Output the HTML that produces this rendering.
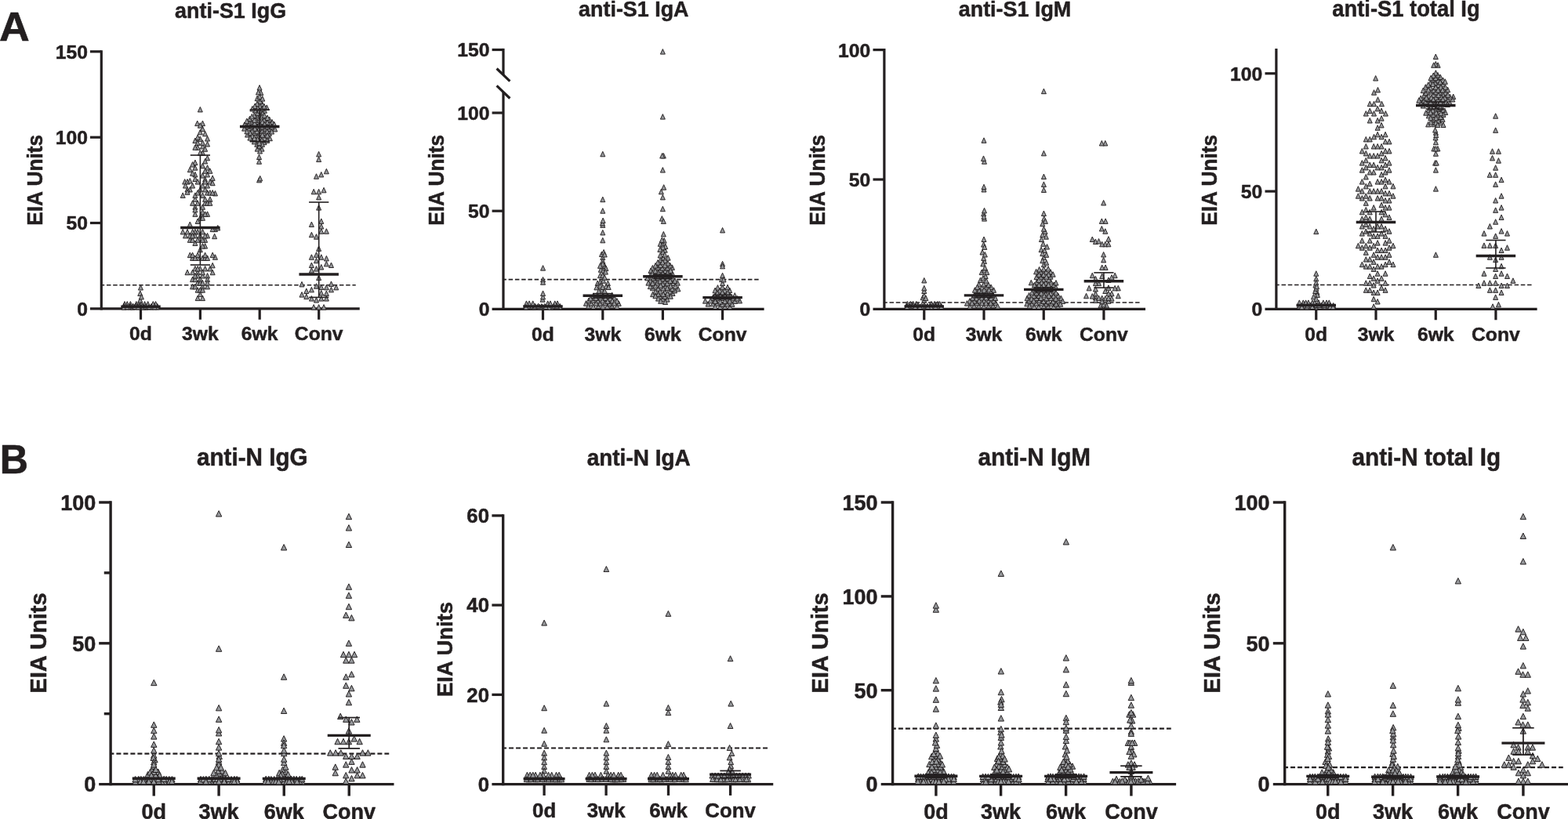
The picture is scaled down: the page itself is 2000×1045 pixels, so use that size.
<!DOCTYPE html>
<html lang="en"><head><meta charset="utf-8"><title>Anti-S1 and anti-N antibody EIA units</title>
<style>html,body{margin:0;padding:0;background:#fff}body{width:2000px;height:1045px;overflow:hidden}svg{display:block}text{white-space:pre}</style>
</head><body>
<svg width="2000" height="1045" viewBox="0 0 2000 1045">
<rect width="2000" height="1045" fill="#fff"/>
<g fill="#231f20" stroke="#231f20" stroke-width="0.6" stroke-linejoin="round" font-family="'Liberation Sans', sans-serif" font-weight="700">
<text transform="translate(-1 51.5) scale(1.07 1.04)" font-size="50.2">A</text>
<text transform="translate(-0.2 604) scale(1 1.04)" font-size="50.2">B</text>
</g>
<g id="A1">
<g stroke="#231f20" fill="none">
<line x1="114.9" y1="393.9" x2="458.75" y2="393.9" stroke-width="3.2"/>
<line x1="129.3" y1="64.2" x2="129.3" y2="395.5" stroke-width="3.2"/>
<line x1="114.9" y1="65.8" x2="129.3" y2="65.8" stroke-width="3.2"/>
<line x1="114.9" y1="175.2" x2="129.3" y2="175.2" stroke-width="3.2"/>
<line x1="114.9" y1="284.5" x2="129.3" y2="284.5" stroke-width="3.2"/>
<line x1="179.5" y1="393.9" x2="179.5" y2="407.75" stroke-width="3.2"/>
<line x1="255.4" y1="393.9" x2="255.4" y2="407.75" stroke-width="3.2"/>
<line x1="331.2" y1="393.9" x2="331.2" y2="407.75" stroke-width="3.2"/>
<line x1="406.7" y1="393.9" x2="406.7" y2="407.75" stroke-width="3.2"/>
<line x1="128.3" y1="363.75" x2="453.75" y2="363.75" stroke-width="1.55" stroke-dasharray="5.5 2.75" stroke-dashoffset="0.6"/>
</g>
<g fill="#231f20" stroke="#231f20" stroke-width="0.5" stroke-linejoin="round" font-family="'Liberation Sans', sans-serif" font-weight="700">
<text transform="translate(112 74.79) scale(1 0.96)" font-size="24.7" text-anchor="end">150</text>
<text transform="translate(112 184.19) scale(1 0.96)" font-size="24.7" text-anchor="end">100</text>
<text transform="translate(112 293.49) scale(1 0.96)" font-size="24.7" text-anchor="end">50</text>
<text transform="translate(112 402.89) scale(1 0.96)" font-size="24.7" text-anchor="end">0</text>
<text transform="translate(179.5 434.1) scale(1 0.97)" font-size="24.7" text-anchor="middle">0d</text>
<text transform="translate(255.4 434.1) scale(1 0.97)" font-size="24.7" text-anchor="middle">3wk</text>
<text transform="translate(331.2 434.1) scale(1 0.97)" font-size="24.7" text-anchor="middle">6wk</text>
<text transform="translate(406.7 434.1) scale(1 0.97)" font-size="24.7" text-anchor="middle">Conv</text>
<text transform="translate(294.1 23.1) scale(1 1.05)" font-size="26.9" text-anchor="middle">anti-S1 IgG</text>
<text transform="translate(53.8 229.8) rotate(-90) scale(1 1.04)" font-size="26.36" text-anchor="middle">EIA Units</text>
</g>
<g id="A1-pts" fill="#97999c" stroke="#231f20" stroke-width="0.95" stroke-linejoin="miter">
<g><path d="M178.78 370.97l3 6.5h-6z"/><path d="M197.03 387.25l3 6.5h-6z"/><path d="M162.27 387.3l3 6.5h-6z"/><path d="M188.74 387.2l3 6.5h-6z"/><path d="M158.97 384.6l3 6.5h-6z"/><path d="M179.71 388.1l3 6.5h-6z"/><path d="M200.76 387.4l3 6.5h-6z"/><path d="M180.43 384.6l3 6.5h-6z"/><path d="M184.55 384.6l3 6.5h-6z"/><path d="M179.44 363.54l3 6.5h-6z"/><path d="M173.82 384.6l3 6.5h-6z"/><path d="M193.04 387.43l3 6.5h-6z"/><path d="M166.4 384.6l3 6.5h-6z"/><path d="M158.12 387.13l3 6.5h-6z"/><path d="M177.12 384.6l3 6.5h-6z"/><path d="M165.92 387.14l3 6.5h-6z"/><path d="M178.78 379.55l3 6.5h-6z"/><path d="M165.5 388.37l3 6.5h-6z"/><path d="M158.21 388.61l3 6.5h-6z"/><path d="M181.52 387.11l3 6.5h-6z"/><path d="M193.12 388.42l3 6.5h-6z"/><path d="M200.27 388.35l3 6.5h-6z"/><path d="M186.28 388.67l3 6.5h-6z"/><path d="M169.12 388.57l3 6.5h-6z"/><path d="M188.68 384.6l3 6.5h-6z"/><path d="M162.28 384.6l3 6.5h-6z"/><path d="M182.96 388.53l3 6.5h-6z"/><path d="M198.57 384.6l3 6.5h-6z"/><path d="M195.28 384.6l3 6.5h-6z"/><path d="M185.62 387.52l3 6.5h-6z"/><path d="M190.32 388.12l3 6.5h-6z"/><path d="M162.21 388.25l3 6.5h-6z"/><path d="M169.73 387.28l3 6.5h-6z"/><path d="M180.43 375.42l3 6.5h-6z"/><path d="M197.35 388.33l3 6.5h-6z"/><path d="M177.86 387.33l3 6.5h-6z"/><path d="M173.6 387.01l3 6.5h-6z"/><path d="M172.18 388.12l3 6.5h-6z"/><path d="M176.27 388.36l3 6.5h-6z"/></g>
<g><path d="M245.6 353.15l3 6.5h-6z"/><path d="M258.47 183.45l3 6.5h-6z"/><path d="M252.2 366.68l3 6.5h-6z"/><path d="M252.2 292.43l3 6.5h-6z"/><path d="M258.47 362.39l3 6.5h-6z"/><path d="M264.57 242.6l3 6.5h-6z"/><path d="M242.3 302.83l3 6.5h-6z"/><path d="M242.3 283.03l3 6.5h-6z"/><path d="M248.9 176.03l3 6.5h-6z"/><path d="M245.6 362.39l3 6.5h-6z"/><path d="M258.47 191.7l3 6.5h-6z"/><path d="M233.22 292.43l3 6.5h-6z"/><path d="M252.2 344.24l3 6.5h-6z"/><path d="M252.2 348.53l3 6.5h-6z"/><path d="M255.34 191.7l3 6.5h-6z"/><path d="M264.57 269.83l3 6.5h-6z"/><path d="M245.6 302.83l3 6.5h-6z"/><path d="M258.47 260.75l3 6.5h-6z"/><path d="M261.61 339.46l3 6.5h-6z"/><path d="M252.2 357.6l3 6.5h-6z"/><path d="M251.7 154.08l3 6.5h-6z"/><path d="M264.57 210.67l3 6.5h-6z"/><path d="M248.9 210.67l3 6.5h-6z"/><path d="M236.53 297.38l3 6.5h-6z"/><path d="M248.9 292.43l3 6.5h-6z"/><path d="M261.61 310.58l3 6.5h-6z"/><path d="M255.34 353.15l3 6.5h-6z"/><path d="M264.57 348.53l3 6.5h-6z"/><path d="M255.34 165.3l3 6.5h-6z"/><path d="M267.88 339.46l3 6.5h-6z"/><path d="M252.2 178.83l3 6.5h-6z"/><path d="M248.9 269.83l3 6.5h-6z"/><path d="M258.47 154.08l3 6.5h-6z"/><path d="M242.3 213.15l3 6.5h-6z"/><path d="M255.34 357.6l3 6.5h-6z"/><path d="M264.57 180.48l3 6.5h-6z"/><path d="M252.2 184.77l3 6.5h-6z"/><path d="M258.47 245.9l3 6.5h-6z"/><path d="M255.34 173.88l3 6.5h-6z"/><path d="M258.47 220.57l3 6.5h-6z"/><path d="M242.3 238.48l3 6.5h-6z"/><path d="M258.47 377.08l3 6.5h-6z"/><path d="M235.7 228.57l3 6.5h-6z"/><path d="M274.48 324.77l3 6.5h-6z"/><path d="M261.61 238.48l3 6.5h-6z"/><path d="M261.61 302.83l3 6.5h-6z"/><path d="M261.61 225.53l3 6.5h-6z"/><path d="M255.34 339.46l3 6.5h-6z"/><path d="M261.61 167.28l3 6.5h-6z"/><path d="M258.47 233.53l3 6.5h-6z"/><path d="M258.47 178.83l3 6.5h-6z"/><path d="M255.34 136.42l3 6.5h-6z"/><path d="M258.47 357.6l3 6.5h-6z"/><path d="M258.47 269.83l3 6.5h-6z"/><path d="M248.9 353.15l3 6.5h-6z"/><path d="M239 238.48l3 6.5h-6z"/><path d="M258.47 161.17l3 6.5h-6z"/><path d="M267.88 242.6l3 6.5h-6z"/><path d="M239 292.43l3 6.5h-6z"/><path d="M255.34 366.68l3 6.5h-6z"/><path d="M274.48 289.13l3 6.5h-6z"/><path d="M271.18 322.13l3 6.5h-6z"/><path d="M264.57 219.42l3 6.5h-6z"/><path d="M255.34 274.78l3 6.5h-6z"/><path d="M258.47 208.2l3 6.5h-6z"/><path d="M252.2 278.9l3 6.5h-6z"/><path d="M233.22 245.9l3 6.5h-6z"/><path d="M248.9 260.75l3 6.5h-6z"/><path d="M261.61 255.8l3 6.5h-6z"/><path d="M264.57 353.15l3 6.5h-6z"/><path d="M239 228.57l3 6.5h-6z"/><path d="M242.3 227.42l3 6.5h-6z"/><path d="M248.9 250.85l3 6.5h-6z"/><path d="M271.18 223.88l3 6.5h-6z"/><path d="M255.34 372.12l3 6.5h-6z"/><path d="M248.9 339.46l3 6.5h-6z"/><path d="M261.61 214.8l3 6.5h-6z"/><path d="M258.47 292.43l3 6.5h-6z"/><path d="M258.47 366.68l3 6.5h-6z"/><path d="M245.6 325.92l3 6.5h-6z"/><path d="M258.47 267.35l3 6.5h-6z"/><path d="M236.53 233.53l3 6.5h-6z"/><path d="M258.47 348.53l3 6.5h-6z"/><path d="M274.48 243.42l3 6.5h-6z"/><path d="M248.9 306.95l3 6.5h-6z"/><path d="M252.2 325.92l3 6.5h-6z"/><path d="M264.57 362.39l3 6.5h-6z"/><path d="M267.88 250.85l3 6.5h-6z"/><path d="M248.9 225.03l3 6.5h-6z"/><path d="M261.61 250.85l3 6.5h-6z"/><path d="M248.9 219.42l3 6.5h-6z"/><path d="M255.34 315.2l3 6.5h-6z"/><path d="M277.77 287.48l3 6.5h-6z"/><path d="M248.9 245.9l3 6.5h-6z"/><path d="M242.3 322.13l3 6.5h-6z"/><path d="M242.3 297.38l3 6.5h-6z"/><path d="M255.34 238.48l3 6.5h-6z"/><path d="M264.57 297.38l3 6.5h-6z"/><path d="M264.57 198.3l3 6.5h-6z"/><path d="M264.57 357.6l3 6.5h-6z"/><path d="M258.47 310.58l3 6.5h-6z"/><path d="M245.6 233.53l3 6.5h-6z"/><path d="M261.61 269.83l3 6.5h-6z"/><path d="M252.2 322.13l3 6.5h-6z"/><path d="M258.47 325.92l3 6.5h-6z"/><path d="M271.18 344.24l3 6.5h-6z"/><path d="M264.57 255.8l3 6.5h-6z"/><path d="M255.34 297.38l3 6.5h-6z"/><path d="M239 241.78l3 6.5h-6z"/><path d="M258.47 302.83l3 6.5h-6z"/><path d="M271.18 242.6l3 6.5h-6z"/><path d="M252.2 377.08l3 6.5h-6z"/><path d="M245.6 344.24l3 6.5h-6z"/><path d="M245.6 292.43l3 6.5h-6z"/><path d="M261.61 325.92l3 6.5h-6z"/><path d="M264.57 233.53l3 6.5h-6z"/><path d="M264.57 325.92l3 6.5h-6z"/><path d="M252.2 255.8l3 6.5h-6z"/><path d="M261.61 186.75l3 6.5h-6z"/><path d="M252.2 339.46l3 6.5h-6z"/><path d="M261.61 228.57l3 6.5h-6z"/><path d="M239 344.24l3 6.5h-6z"/><path d="M255.34 156.72l3 6.5h-6z"/><path d="M267.88 214.8l3 6.5h-6z"/><path d="M245.6 217.77l3 6.5h-6z"/><path d="M248.9 204.07l3 6.5h-6z"/><path d="M248.9 264.38l3 6.5h-6z"/><path d="M267.88 228.57l3 6.5h-6z"/><path d="M245.6 322.13l3 6.5h-6z"/><path d="M273.65 298.21l3 6.5h-6z"/><path d="M271.18 289.13l3 6.5h-6z"/><path d="M271.18 335.33l3 6.5h-6z"/><path d="M248.9 297.38l3 6.5h-6z"/><path d="M252.2 171.9l3 6.5h-6z"/><path d="M248.9 362.39l3 6.5h-6z"/><path d="M267.88 255.8l3 6.5h-6z"/><path d="M258.47 344.24l3 6.5h-6z"/><path d="M248.9 325.92l3 6.5h-6z"/><path d="M261.61 297.38l3 6.5h-6z"/><path d="M248.9 348.53l3 6.5h-6z"/><path d="M252.2 302.83l3 6.5h-6z"/><path d="M261.61 322.13l3 6.5h-6z"/><path d="M252.2 228.57l3 6.5h-6z"/><path d="M264.57 173.55l3 6.5h-6z"/><path d="M252.2 242.6l3 6.5h-6z"/><path d="M245.6 255.8l3 6.5h-6z"/><path d="M258.47 274.78l3 6.5h-6z"/><path d="M271.18 230.22l3 6.5h-6z"/><path d="M245.6 297.38l3 6.5h-6z"/><path d="M261.61 202.42l3 6.5h-6z"/><path d="M245.6 206.55l3 6.5h-6z"/><path d="M248.9 184.77l3 6.5h-6z"/></g>
<g><path d="M331.54 172.06l3 6.5h-6z"/><path d="M318.46 153.98l3 6.5h-6z"/><path d="M328.59 145.43l3 6.5h-6z"/><path d="M331.36 154.07l3 6.5h-6z"/><path d="M328.48 169.61l3 6.5h-6z"/><path d="M331.6 166.88l3 6.5h-6z"/><path d="M332.84 114.89l3 6.5h-6z"/><path d="M337.1 178.16l3 6.5h-6z"/><path d="M331.69 143.49l3 6.5h-6z"/><path d="M315.57 168.54l3 6.5h-6z"/><path d="M327.78 180.76l3 6.5h-6z"/><path d="M324.4 144.07l3 6.5h-6z"/><path d="M344.35 173.2l3 6.5h-6z"/><path d="M317.92 160.4l3 6.5h-6z"/><path d="M321.38 152.97l3 6.5h-6z"/><path d="M328.15 122.18l3 6.5h-6z"/><path d="M334.56 129.59l3 6.5h-6z"/><path d="M331.51 131.93l3 6.5h-6z"/><path d="M325.36 137.42l3 6.5h-6z"/><path d="M337.42 137.72l3 6.5h-6z"/><path d="M337.35 166.23l3 6.5h-6z"/><path d="M337.09 149.35l3 6.5h-6z"/><path d="M314.9 157.77l3 6.5h-6z"/><path d="M327.85 151.97l3 6.5h-6z"/><path d="M331.79 125.89l3 6.5h-6z"/><path d="M337.64 172.99l3 6.5h-6z"/><path d="M334.22 163.49l3 6.5h-6z"/><path d="M321.97 163.34l3 6.5h-6z"/><path d="M343.48 166.73l3 6.5h-6z"/><path d="M328.49 140.82l3 6.5h-6z"/><path d="M328.51 134.44l3 6.5h-6z"/><path d="M328.26 186.61l3 6.5h-6z"/><path d="M311.62 160.62l3 6.5h-6z"/><path d="M327.84 158.04l3 6.5h-6z"/><path d="M318.54 148.24l3 6.5h-6z"/><path d="M334.12 175.31l3 6.5h-6z"/><path d="M350.77 161.43l3 6.5h-6z"/><path d="M340.32 133.92l3 6.5h-6z"/><path d="M343.55 160.81l3 6.5h-6z"/><path d="M334.33 135.52l3 6.5h-6z"/><path d="M328.44 174.35l3 6.5h-6z"/><path d="M311.76 155.91l3 6.5h-6z"/><path d="M338.06 160.65l3 6.5h-6z"/><path d="M331.25 119.89l3 6.5h-6z"/><path d="M330.96 137.57l3 6.5h-6z"/><path d="M330.53 196.99l3 6.5h-6z"/><path d="M327.97 129.13l3 6.5h-6z"/><path d="M334.01 186.6l3 6.5h-6z"/><path d="M347.12 152.49l3 6.5h-6z"/><path d="M330.99 183.2l3 6.5h-6z"/><path d="M343.64 148.97l3 6.5h-6z"/><path d="M331.54 189.51l3 6.5h-6z"/><path d="M325.31 166l3 6.5h-6z"/><path d="M321.99 174.27l3 6.5h-6z"/><path d="M334.83 141.43l3 6.5h-6z"/><path d="M349.87 155.3l3 6.5h-6z"/><path d="M340.69 164.49l3 6.5h-6z"/><path d="M341 169.5l3 6.5h-6z"/><path d="M334.29 145.55l3 6.5h-6z"/><path d="M331.05 108.57l3 6.5h-6z"/><path d="M324.9 153.99l3 6.5h-6z"/><path d="M314.79 151.14l3 6.5h-6z"/><path d="M321.38 157.58l3 6.5h-6z"/><path d="M327.75 164.24l3 6.5h-6z"/><path d="M324.27 177.41l3 6.5h-6z"/><path d="M325.09 132.1l3 6.5h-6z"/><path d="M344.25 155.43l3 6.5h-6z"/><path d="M318.98 166.42l3 6.5h-6z"/><path d="M330.8 160.43l3 6.5h-6z"/><path d="M337.04 132.48l3 6.5h-6z"/><path d="M324.6 149.91l3 6.5h-6z"/><path d="M334.5 180.77l3 6.5h-6z"/><path d="M340.94 152.93l3 6.5h-6z"/><path d="M329.47 114.36l3 6.5h-6z"/><path d="M321.86 135.41l3 6.5h-6z"/><path d="M334.69 168.8l3 6.5h-6z"/><path d="M321.34 145.38l3 6.5h-6z"/><path d="M340.88 158.32l3 6.5h-6z"/><path d="M334.8 122.57l3 6.5h-6z"/><path d="M321.83 170.3l3 6.5h-6z"/><path d="M331.21 150.15l3 6.5h-6z"/><path d="M346.61 164.54l3 6.5h-6z"/><path d="M337.25 144.02l3 6.5h-6z"/><path d="M341.12 147l3 6.5h-6z"/><path d="M330.53 202.78l3 6.5h-6z"/><path d="M325.2 160.63l3 6.5h-6z"/><path d="M340.77 175.81l3 6.5h-6z"/><path d="M334.25 158.4l3 6.5h-6z"/><path d="M334.57 152.24l3 6.5h-6z"/><path d="M330.68 179.1l3 6.5h-6z"/><path d="M314.93 164.27l3 6.5h-6z"/><path d="M324.5 173.08l3 6.5h-6z"/><path d="M337.56 155.31l3 6.5h-6z"/><path d="M330.57 226.35l3 6.5h-6z"/><path d="M346.87 158.46l3 6.5h-6z"/><path d="M318.93 172.58l3 6.5h-6z"/><path d="M331.73 224.37l3 6.5h-6z"/></g>
<g><path d="M390.8 368l3 6.5h-6z"/><path d="M403.5 329.22l3 6.5h-6z"/><path d="M422.48 366.35l3 6.5h-6z"/><path d="M416.38 326.42l3 6.5h-6z"/><path d="M403.5 298.7l3 6.5h-6z"/><path d="M413.07 388.62l3 6.5h-6z"/><path d="M403.5 379.55l3 6.5h-6z"/><path d="M406.64 388.62l3 6.5h-6z"/><path d="M416.38 370.97l3 6.5h-6z"/><path d="M385.02 372.62l3 6.5h-6z"/><path d="M413.07 239.3l3 6.5h-6z"/><path d="M409.77 291.77l3 6.5h-6z"/><path d="M403.5 361.73l3 6.5h-6z"/><path d="M406.64 351l3 6.5h-6z"/><path d="M416.38 363.38l3 6.5h-6z"/><path d="M409.77 285.5l3 6.5h-6z"/><path d="M409.77 278.9l3 6.5h-6z"/><path d="M416.38 215.29l3 6.5h-6z"/><path d="M422.48 358.92l3 6.5h-6z"/><path d="M409.77 370.48l3 6.5h-6z"/><path d="M397.4 377.57l3 6.5h-6z"/><path d="M390.8 375.1l3 6.5h-6z"/><path d="M403.5 339.62l3 6.5h-6z"/><path d="M397.4 335l3 6.5h-6z"/><path d="M397.4 341.6l3 6.5h-6z"/><path d="M409.77 324.77l3 6.5h-6z"/><path d="M406.64 193.35l3 6.5h-6z"/><path d="M400.2 388.62l3 6.5h-6z"/><path d="M406.64 248.38l3 6.5h-6z"/><path d="M397.4 366.35l3 6.5h-6z"/><path d="M409.77 337.48l3 6.5h-6z"/><path d="M397.4 283.03l3 6.5h-6z"/><path d="M406.64 313.88l3 6.5h-6z"/><path d="M416.38 333.35l3 6.5h-6z"/><path d="M409.77 363.05l3 6.5h-6z"/><path d="M416.38 291.77l3 6.5h-6z"/><path d="M409.77 219.42l3 6.5h-6z"/><path d="M403.5 321.8l3 6.5h-6z"/><path d="M428.75 363.38l3 6.5h-6z"/><path d="M409.77 377.57l3 6.5h-6z"/><path d="M406.64 199.95l3 6.5h-6z"/><path d="M403.5 221.73l3 6.5h-6z"/><path d="M400.2 241.28l3 6.5h-6z"/><path d="M406.64 261.58l3 6.5h-6z"/><path d="M385.02 359.42l3 6.5h-6z"/><path d="M422.48 335l3 6.5h-6z"/><path d="M416.38 377.57l3 6.5h-6z"/><path d="M406.64 241.28l3 6.5h-6z"/><path d="M397.4 324.77l3 6.5h-6z"/><path d="M397.4 296.22l3 6.5h-6z"/></g>
</g>
<g stroke="#231f20" fill="none">
<line x1="154.25" y1="391.2" x2="204.75" y2="391.2" stroke-width="3.4"/>
<line x1="255.4" y1="198" x2="255.4" y2="338" stroke-width="1.6"/>
<line x1="242.78" y1="198" x2="268.02" y2="198" stroke-width="1.6"/>
<line x1="242.78" y1="338" x2="268.02" y2="338" stroke-width="1.6"/>
<line x1="230.15" y1="290.5" x2="280.65" y2="290.5" stroke-width="3.4"/>
<line x1="331.2" y1="140" x2="331.2" y2="180.5" stroke-width="1.6"/>
<line x1="318.57" y1="140" x2="343.82" y2="140" stroke-width="1.6"/>
<line x1="318.57" y1="180.5" x2="343.82" y2="180.5" stroke-width="1.6"/>
<line x1="305.95" y1="161.5" x2="356.45" y2="161.5" stroke-width="3.4"/>
<line x1="406.7" y1="258" x2="406.7" y2="379.4" stroke-width="1.6"/>
<line x1="394.07" y1="258" x2="419.32" y2="258" stroke-width="1.6"/>
<line x1="394.07" y1="379.4" x2="419.32" y2="379.4" stroke-width="1.6"/>
<line x1="381.45" y1="350" x2="431.95" y2="350" stroke-width="3.4"/>
</g>
</g>
<g id="A2">
<g stroke="#231f20" fill="none">
<line x1="627.6" y1="394.4" x2="974.6" y2="394.4" stroke-width="3.2"/>
<line x1="642" y1="61.9" x2="642" y2="95.6" stroke-width="3.2"/>
<line x1="642" y1="117.4" x2="642" y2="396" stroke-width="3.2"/>
<line x1="633.6" y1="87.5" x2="650.4" y2="103.7" stroke-width="3.2"/>
<line x1="633.6" y1="109.3" x2="650.4" y2="125.5" stroke-width="3.2"/>
<line x1="627.6" y1="63.5" x2="642" y2="63.5" stroke-width="3.2"/>
<line x1="627.6" y1="144" x2="642" y2="144" stroke-width="3.2"/>
<line x1="627.6" y1="269.2" x2="642" y2="269.2" stroke-width="3.2"/>
<line x1="692.5" y1="394.4" x2="692.5" y2="408.25" stroke-width="3.2"/>
<line x1="768.8" y1="394.4" x2="768.8" y2="408.25" stroke-width="3.2"/>
<line x1="845.4" y1="394.4" x2="845.4" y2="408.25" stroke-width="3.2"/>
<line x1="921.6" y1="394.4" x2="921.6" y2="408.25" stroke-width="3.2"/>
<line x1="641" y1="356.6" x2="968.75" y2="356.6" stroke-width="1.55" stroke-dasharray="5.5 2.75" stroke-dashoffset="0.6"/>
</g>
<g fill="#231f20" stroke="#231f20" stroke-width="0.5" stroke-linejoin="round" font-family="'Liberation Sans', sans-serif" font-weight="700">
<text transform="translate(624.5 72.49) scale(1 0.96)" font-size="24.7" text-anchor="end">150</text>
<text transform="translate(624.5 152.99) scale(1 0.96)" font-size="24.7" text-anchor="end">100</text>
<text transform="translate(624.5 278.19) scale(1 0.96)" font-size="24.7" text-anchor="end">50</text>
<text transform="translate(624.5 403.39) scale(1 0.96)" font-size="24.7" text-anchor="end">0</text>
<text transform="translate(692.5 434.7) scale(1 0.97)" font-size="24.7" text-anchor="middle">0d</text>
<text transform="translate(768.8 434.7) scale(1 0.97)" font-size="24.7" text-anchor="middle">3wk</text>
<text transform="translate(845.4 434.7) scale(1 0.97)" font-size="24.7" text-anchor="middle">6wk</text>
<text transform="translate(921.6 434.7) scale(1 0.97)" font-size="24.7" text-anchor="middle">Conv</text>
<text transform="translate(808.3 20.6) scale(1 1.05)" font-size="26.9" text-anchor="middle">anti-S1 IgA</text>
<text transform="translate(566 229.8) rotate(-90) scale(1 1.04)" font-size="26.36" text-anchor="middle">EIA Units</text>
</g>
<g id="A2-pts" fill="#97999c" stroke="#231f20" stroke-width="0.95" stroke-linejoin="miter">
<g><path d="M670.62 387.28l3 6.5h-6z"/><path d="M692.17 388.69l3 6.5h-6z"/><path d="M706.56 388.21l3 6.5h-6z"/><path d="M674.92 388.48l3 6.5h-6z"/><path d="M711.05 383.9l3 6.5h-6z"/><path d="M678.17 388.55l3 6.5h-6z"/><path d="M692.08 378.72l3 6.5h-6z"/><path d="M690.94 387.6l3 6.5h-6z"/><path d="M674.86 387.51l3 6.5h-6z"/><path d="M675.08 383.9l3 6.5h-6z"/><path d="M685.44 388.68l3 6.5h-6z"/><path d="M678.83 387.38l3 6.5h-6z"/><path d="M692.57 353.48l3 6.5h-6z"/><path d="M707.75 383.9l3 6.5h-6z"/><path d="M681.5 388.51l3 6.5h-6z"/><path d="M692.57 375.42l3 6.5h-6z"/><path d="M702.1 387.04l3 6.5h-6z"/><path d="M698.22 387.14l3 6.5h-6z"/><path d="M714.37 387.51l3 6.5h-6z"/><path d="M703.37 388.57l3 6.5h-6z"/><path d="M698.67 383.9l3 6.5h-6z"/><path d="M682.73 387.4l3 6.5h-6z"/><path d="M701.98 383.9l3 6.5h-6z"/><path d="M679.7 383.9l3 6.5h-6z"/><path d="M700.05 388.78l3 6.5h-6z"/><path d="M694.73 387.42l3 6.5h-6z"/><path d="M671.45 383.9l3 6.5h-6z"/><path d="M696.24 388.23l3 6.5h-6z"/><path d="M688.59 388.38l3 6.5h-6z"/><path d="M692.57 356.78l3 6.5h-6z"/><path d="M706.39 387.24l3 6.5h-6z"/><path d="M713.75 388.35l3 6.5h-6z"/><path d="M710.44 388.24l3 6.5h-6z"/><path d="M686.6 387.17l3 6.5h-6z"/><path d="M692.57 370.97l3 6.5h-6z"/><path d="M710.37 387.23l3 6.5h-6z"/><path d="M670.96 388.54l3 6.5h-6z"/><path d="M692.57 338.63l3 6.5h-6z"/></g>
<g><path d="M775.4 358.1l3 6.5h-6z"/><path d="M778.38 377.64l3 6.5h-6z"/><path d="M762.21 373.55l3 6.5h-6z"/><path d="M747.48 383.74l3 6.5h-6z"/><path d="M768.8 325.1l3 6.5h-6z"/><path d="M768.8 329.72l3 6.5h-6z"/><path d="M762.2 358.1l3 6.5h-6z"/><path d="M762.68 380.41l3 6.5h-6z"/><path d="M768.8 283.85l3 6.5h-6z"/><path d="M780.49 386.72l3 6.5h-6z"/><path d="M789.26 383.86l3 6.5h-6z"/><path d="M774.52 387.63l3 6.5h-6z"/><path d="M765.5 356.45l3 6.5h-6z"/><path d="M765.5 348.2l3 6.5h-6z"/><path d="M767.48 320.98l3 6.5h-6z"/><path d="M763.31 387.14l3 6.5h-6z"/><path d="M769.62 354.8l3 6.5h-6z"/><path d="M766.21 376.53l3 6.5h-6z"/><path d="M772.92 362.22l3 6.5h-6z"/><path d="M769.17 373.93l3 6.5h-6z"/><path d="M765.47 383.82l3 6.5h-6z"/><path d="M786.94 387.89l3 6.5h-6z"/><path d="M771.27 335.83l3 6.5h-6z"/><path d="M760.88 363.38l3 6.5h-6z"/><path d="M768.8 293.42l3 6.5h-6z"/><path d="M750.54 387.28l3 6.5h-6z"/><path d="M768.47 281.37l3 6.5h-6z"/><path d="M774.87 373.9l3 6.5h-6z"/><path d="M760.19 383.82l3 6.5h-6z"/><path d="M783.71 376.67l3 6.5h-6z"/><path d="M781 380.33l3 6.5h-6z"/><path d="M770.12 318.5l3 6.5h-6z"/><path d="M767.48 366.35l3 6.5h-6z"/><path d="M768.8 193.28l3 6.5h-6z"/><path d="M768.8 251.18l3 6.5h-6z"/><path d="M787.03 380.71l3 6.5h-6z"/><path d="M777.41 384.14l3 6.5h-6z"/><path d="M750.95 380.1l3 6.5h-6z"/><path d="M768.8 333.35l3 6.5h-6z"/><path d="M768.77 380.37l3 6.5h-6z"/><path d="M754.17 383.91l3 6.5h-6z"/><path d="M772.13 383.43l3 6.5h-6z"/><path d="M768.8 348.2l3 6.5h-6z"/><path d="M766.33 340.78l3 6.5h-6z"/><path d="M768.8 265.7l3 6.5h-6z"/><path d="M780.73 373.3l3 6.5h-6z"/><path d="M769.62 341.6l3 6.5h-6z"/><path d="M783.53 383.72l3 6.5h-6z"/><path d="M771.27 321.47l3 6.5h-6z"/><path d="M756.26 380.11l3 6.5h-6z"/><path d="M765.5 361.4l3 6.5h-6z"/><path d="M772.3 377.12l3 6.5h-6z"/><path d="M772.92 339.12l3 6.5h-6z"/><path d="M771.27 350.67l3 6.5h-6z"/><path d="M756.78 387.85l3 6.5h-6z"/><path d="M768.8 363.05l3 6.5h-6z"/><path d="M776.23 363.05l3 6.5h-6z"/><path d="M763.85 368l3 6.5h-6z"/><path d="M771.27 368l3 6.5h-6z"/><path d="M775.07 381.07l3 6.5h-6z"/><path d="M765.5 335.83l3 6.5h-6z"/><path d="M768.8 303.32l3 6.5h-6z"/><path d="M753.27 377.49l3 6.5h-6z"/><path d="M756.99 373.9l3 6.5h-6z"/><path d="M760.02 376.91l3 6.5h-6z"/><path d="M769.13 278.08l3 6.5h-6z"/><path d="M772.43 343.58l3 6.5h-6z"/><path d="M769.1 387.8l3 6.5h-6z"/></g>
<g><path d="M848.4 342.11l3 6.5h-6z"/><path d="M841.69 375.27l3 6.5h-6z"/><path d="M846.68 235.67l3 6.5h-6z"/><path d="M835.77 354.22l3 6.5h-6z"/><path d="M832.36 338.45l3 6.5h-6z"/><path d="M839.47 364.91l3 6.5h-6z"/><path d="M858.36 357.98l3 6.5h-6z"/><path d="M842.6 328.17l3 6.5h-6z"/><path d="M854.81 348.15l3 6.5h-6z"/><path d="M838.78 337.97l3 6.5h-6z"/><path d="M847.95 355.4l3 6.5h-6z"/><path d="M848.32 368.95l3 6.5h-6z"/><path d="M848.75 362.26l3 6.5h-6z"/><path d="M864.9 365.35l3 6.5h-6z"/><path d="M842.23 307.78l3 6.5h-6z"/><path d="M829.34 354.62l3 6.5h-6z"/><path d="M839.01 331.64l3 6.5h-6z"/><path d="M838.54 357.67l3 6.5h-6z"/><path d="M844.37 275.6l3 6.5h-6z"/><path d="M846.35 278.9l3 6.5h-6z"/><path d="M845.21 344.73l3 6.5h-6z"/><path d="M857.45 337.89l3 6.5h-6z"/><path d="M845.36 62.6l3 6.5h-6z"/><path d="M842 368.58l3 6.5h-6z"/><path d="M845.36 263.22l3 6.5h-6z"/><path d="M845.58 377.95l3 6.5h-6z"/><path d="M832.34 364.28l3 6.5h-6z"/><path d="M845.84 325.76l3 6.5h-6z"/><path d="M858.04 370.97l3 6.5h-6z"/><path d="M845.52 308.6l3 6.5h-6z"/><path d="M842.61 341.28l3 6.5h-6z"/><path d="M830.05 341.98l3 6.5h-6z"/><path d="M857.48 345.29l3 6.5h-6z"/><path d="M845.95 364.54l3 6.5h-6z"/><path d="M848.22 315.73l3 6.5h-6z"/><path d="M835.76 347.71l3 6.5h-6z"/><path d="M860.55 367.41l3 6.5h-6z"/><path d="M851.13 378.64l3 6.5h-6z"/><path d="M851.57 338.81l3 6.5h-6z"/><path d="M835.92 361.35l3 6.5h-6z"/><path d="M845.44 318.2l3 6.5h-6z"/><path d="M826.94 357.64l3 6.5h-6z"/><path d="M851.16 364.11l3 6.5h-6z"/><path d="M832.6 372.16l3 6.5h-6z"/><path d="M851.41 351.95l3 6.5h-6z"/><path d="M842.17 322.5l3 6.5h-6z"/><path d="M845.33 358.86l3 6.5h-6z"/><path d="M854.8 335.33l3 6.5h-6z"/><path d="M854.57 368.62l3 6.5h-6z"/><path d="M845.36 213.57l3 6.5h-6z"/><path d="M848.53 328.97l3 6.5h-6z"/><path d="M851.15 358.32l3 6.5h-6z"/><path d="M833.36 351.69l3 6.5h-6z"/><path d="M842.85 347.75l3 6.5h-6z"/><path d="M848.07 374.9l3 6.5h-6z"/><path d="M839.52 372.03l3 6.5h-6z"/><path d="M848.27 348.52l3 6.5h-6z"/><path d="M864.35 357.66l3 6.5h-6z"/><path d="M852.09 325.65l3 6.5h-6z"/><path d="M836.1 368.69l3 6.5h-6z"/><path d="M839.3 351.33l3 6.5h-6z"/><path d="M845.99 371.88l3 6.5h-6z"/><path d="M829.7 347.62l3 6.5h-6z"/><path d="M846.35 195.42l3 6.5h-6z"/><path d="M861.29 362.1l3 6.5h-6z"/><path d="M845.36 248.38l3 6.5h-6z"/><path d="M847.17 303.65l3 6.5h-6z"/><path d="M847.97 321.6l3 6.5h-6z"/><path d="M848.83 311.08l3 6.5h-6z"/><path d="M842.61 361.1l3 6.5h-6z"/><path d="M848.55 382.04l3 6.5h-6z"/><path d="M846.35 295.4l3 6.5h-6z"/><path d="M844.89 338.7l3 6.5h-6z"/><path d="M852.06 332.64l3 6.5h-6z"/><path d="M832.45 345.25l3 6.5h-6z"/><path d="M845.62 312.35l3 6.5h-6z"/><path d="M839.21 344.83l3 6.5h-6z"/><path d="M857.71 351.8l3 6.5h-6z"/><path d="M841.87 314.93l3 6.5h-6z"/><path d="M851.92 344.44l3 6.5h-6z"/><path d="M855.31 374.76l3 6.5h-6z"/><path d="M851.41 371.4l3 6.5h-6z"/><path d="M860.9 354.86l3 6.5h-6z"/><path d="M836.01 335.56l3 6.5h-6z"/><path d="M825.91 351.4l3 6.5h-6z"/><path d="M835.92 374.27l3 6.5h-6z"/><path d="M843.38 241.28l3 6.5h-6z"/><path d="M839.5 377.6l3 6.5h-6z"/><path d="M842.66 380.81l3 6.5h-6z"/><path d="M857.53 365.21l3 6.5h-6z"/><path d="M855.41 341.93l3 6.5h-6z"/><path d="M845.4 352.32l3 6.5h-6z"/><path d="M829.35 362.15l3 6.5h-6z"/><path d="M845.36 145.6l3 6.5h-6z"/><path d="M854.83 355.05l3 6.5h-6z"/><path d="M832.46 357.95l3 6.5h-6z"/><path d="M835.85 342.35l3 6.5h-6z"/><path d="M842.46 335.07l3 6.5h-6z"/><path d="M844.37 302.83l3 6.5h-6z"/><path d="M855.35 361.46l3 6.5h-6z"/><path d="M844.7 195.42l3 6.5h-6z"/><path d="M841.75 355.37l3 6.5h-6z"/><path d="M845.18 331.25l3 6.5h-6z"/><path d="M848.19 335.2l3 6.5h-6z"/></g>
<g><path d="M915.49 363.65l3 6.5h-6z"/><path d="M924.87 373.58l3 6.5h-6z"/><path d="M903.17 384.57l3 6.5h-6z"/><path d="M914.83 384.04l3 6.5h-6z"/><path d="M924.61 387.83l3 6.5h-6z"/><path d="M918.7 387.97l3 6.5h-6z"/><path d="M909.43 384.29l3 6.5h-6z"/><path d="M899.51 380.65l3 6.5h-6z"/><path d="M921.59 290.45l3 6.5h-6z"/><path d="M912.04 367.3l3 6.5h-6z"/><path d="M921.83 377l3 6.5h-6z"/><path d="M931.09 388.29l3 6.5h-6z"/><path d="M912.2 388.08l3 6.5h-6z"/><path d="M914.88 377.2l3 6.5h-6z"/><path d="M908.99 376.99l3 6.5h-6z"/><path d="M927.64 384.59l3 6.5h-6z"/><path d="M934.22 377.41l3 6.5h-6z"/><path d="M918.63 373.5l3 6.5h-6z"/><path d="M930.69 367.03l3 6.5h-6z"/><path d="M927.48 377.44l3 6.5h-6z"/><path d="M918.16 367.45l3 6.5h-6z"/><path d="M906.28 380.44l3 6.5h-6z"/><path d="M924.59 381.05l3 6.5h-6z"/><path d="M921.59 333.35l3 6.5h-6z"/><path d="M930.8 380.73l3 6.5h-6z"/><path d="M912.08 374.09l3 6.5h-6z"/><path d="M920.6 353.15l3 6.5h-6z"/><path d="M914.95 370.65l3 6.5h-6z"/><path d="M933.98 384.78l3 6.5h-6z"/><path d="M937.47 380.93l3 6.5h-6z"/><path d="M943.53 380.41l3 6.5h-6z"/><path d="M928.05 363.23l3 6.5h-6z"/><path d="M921.59 348.2l3 6.5h-6z"/><path d="M924.5 367.33l3 6.5h-6z"/><path d="M921.36 363.17l3 6.5h-6z"/><path d="M921.59 358.1l3 6.5h-6z"/><path d="M928.37 370.35l3 6.5h-6z"/><path d="M923.08 353.48l3 6.5h-6z"/><path d="M937.29 373.63l3 6.5h-6z"/><path d="M912.34 381.05l3 6.5h-6z"/><path d="M940.43 377.58l3 6.5h-6z"/><path d="M921.43 369.96l3 6.5h-6z"/><path d="M921.59 336.32l3 6.5h-6z"/><path d="M921.32 384.91l3 6.5h-6z"/><path d="M918.64 381.5l3 6.5h-6z"/><path d="M931.41 373.98l3 6.5h-6z"/></g>
</g>
<g stroke="#231f20" fill="none">
<line x1="667.25" y1="390.9" x2="717.75" y2="390.9" stroke-width="3.4"/>
<line x1="768.8" y1="374.6" x2="768.8" y2="380" stroke-width="1.6"/>
<line x1="756.17" y1="374.6" x2="781.42" y2="374.6" stroke-width="1.6"/>
<line x1="756.17" y1="380" x2="781.42" y2="380" stroke-width="1.6"/>
<line x1="743.55" y1="377.25" x2="794.05" y2="377.25" stroke-width="3.4"/>
<line x1="845.4" y1="350.4" x2="845.4" y2="355.6" stroke-width="1.6"/>
<line x1="832.77" y1="350.4" x2="858.02" y2="350.4" stroke-width="1.6"/>
<line x1="832.77" y1="355.6" x2="858.02" y2="355.6" stroke-width="1.6"/>
<line x1="820.15" y1="352.75" x2="870.65" y2="352.75" stroke-width="3.4"/>
<line x1="921.6" y1="376.3" x2="921.6" y2="381.6" stroke-width="1.6"/>
<line x1="908.98" y1="376.3" x2="934.23" y2="376.3" stroke-width="1.6"/>
<line x1="908.98" y1="381.6" x2="934.23" y2="381.6" stroke-width="1.6"/>
<line x1="896.35" y1="379.6" x2="946.85" y2="379.6" stroke-width="3.4"/>
</g>
</g>
<g id="A3">
<g stroke="#231f20" fill="none">
<line x1="1113.5" y1="394.4" x2="1461" y2="394.4" stroke-width="3.2"/>
<line x1="1127.9" y1="62" x2="1127.9" y2="396" stroke-width="3.2"/>
<line x1="1113.5" y1="63.6" x2="1127.9" y2="63.6" stroke-width="3.2"/>
<line x1="1113.5" y1="229" x2="1127.9" y2="229" stroke-width="3.2"/>
<line x1="1178.75" y1="394.4" x2="1178.75" y2="408.25" stroke-width="3.2"/>
<line x1="1255" y1="394.4" x2="1255" y2="408.25" stroke-width="3.2"/>
<line x1="1331.25" y1="394.4" x2="1331.25" y2="408.25" stroke-width="3.2"/>
<line x1="1407.9" y1="394.4" x2="1407.9" y2="408.25" stroke-width="3.2"/>
<line x1="1126.9" y1="386" x2="1455" y2="386" stroke-width="1.55" stroke-dasharray="5.5 2.75" stroke-dashoffset="0.6"/>
</g>
<g fill="#231f20" stroke="#231f20" stroke-width="0.5" stroke-linejoin="round" font-family="'Liberation Sans', sans-serif" font-weight="700">
<text transform="translate(1110.3 72.59) scale(1 0.96)" font-size="24.7" text-anchor="end">100</text>
<text transform="translate(1110.3 237.99) scale(1 0.96)" font-size="24.7" text-anchor="end">50</text>
<text transform="translate(1110.3 403.39) scale(1 0.96)" font-size="24.7" text-anchor="end">0</text>
<text transform="translate(1178.75 434.7) scale(1 0.97)" font-size="24.7" text-anchor="middle">0d</text>
<text transform="translate(1255 434.7) scale(1 0.97)" font-size="24.7" text-anchor="middle">3wk</text>
<text transform="translate(1331.25 434.7) scale(1 0.97)" font-size="24.7" text-anchor="middle">6wk</text>
<text transform="translate(1407.9 434.7) scale(1 0.97)" font-size="24.7" text-anchor="middle">Conv</text>
<text transform="translate(1294.5 20.6) scale(1 1.05)" font-size="26.9" text-anchor="middle">anti-S1 IgM</text>
<text transform="translate(1052 229.8) rotate(-90) scale(1 1.04)" font-size="26.36" text-anchor="middle">EIA Units</text>
</g>
<g id="A3-pts" fill="#97999c" stroke="#231f20" stroke-width="0.95" stroke-linejoin="miter">
<g><path d="M1161.45 384.5l3 6.5h-6z"/><path d="M1196.1 384.5l3 6.5h-6z"/><path d="M1196.93 386.92l3 6.5h-6z"/><path d="M1164.75 384.5l3 6.5h-6z"/><path d="M1178.78 379.55l3 6.5h-6z"/><path d="M1175.46 386.94l3 6.5h-6z"/><path d="M1171.33 386.82l3 6.5h-6z"/><path d="M1178.97 386.93l3 6.5h-6z"/><path d="M1177.12 376.25l3 6.5h-6z"/><path d="M1191.97 384.5l3 6.5h-6z"/><path d="M1187.85 384.5l3 6.5h-6z"/><path d="M1192.78 387.09l3 6.5h-6z"/><path d="M1198.58 384.5l3 6.5h-6z"/><path d="M1160.53 387.36l3 6.5h-6z"/><path d="M1177.16 387.84l3 6.5h-6z"/><path d="M1189.56 387.24l3 6.5h-6z"/><path d="M1178.78 373.78l3 6.5h-6z"/><path d="M1168.88 384.5l3 6.5h-6z"/><path d="M1157.33 384.5l3 6.5h-6z"/><path d="M1160.67 388.09l3 6.5h-6z"/><path d="M1170.48 387.94l3 6.5h-6z"/><path d="M1186.12 387.26l3 6.5h-6z"/><path d="M1156.97 387.29l3 6.5h-6z"/><path d="M1190.63 388.17l3 6.5h-6z"/><path d="M1178.78 354.47l3 6.5h-6z"/><path d="M1156.98 388.21l3 6.5h-6z"/><path d="M1196.94 387.87l3 6.5h-6z"/><path d="M1180.64 387.94l3 6.5h-6z"/><path d="M1180.92 377.08l3 6.5h-6z"/><path d="M1178.78 368l3 6.5h-6z"/><path d="M1200.59 387.33l3 6.5h-6z"/><path d="M1178.78 364.37l3 6.5h-6z"/><path d="M1163.64 388.28l3 6.5h-6z"/><path d="M1182.71 387.34l3 6.5h-6z"/><path d="M1164.38 387.13l3 6.5h-6z"/><path d="M1173.39 388.02l3 6.5h-6z"/><path d="M1187.42 388.24l3 6.5h-6z"/><path d="M1167.87 387.09l3 6.5h-6z"/><path d="M1200.61 388.02l3 6.5h-6z"/><path d="M1183.5 387.83l3 6.5h-6z"/><path d="M1167.42 388.11l3 6.5h-6z"/><path d="M1193.26 388l3 6.5h-6z"/></g>
<g><path d="M1236.9 380.65l3 6.5h-6z"/><path d="M1248.44 386.7l3 6.5h-6z"/><path d="M1261.18 380.08l3 6.5h-6z"/><path d="M1266.72 386.54l3 6.5h-6z"/><path d="M1255.01 302l3 6.5h-6z"/><path d="M1245.93 383.38l3 6.5h-6z"/><path d="M1254.93 373.67l3 6.5h-6z"/><path d="M1255.5 202.72l3 6.5h-6z"/><path d="M1254.86 387.36l3 6.5h-6z"/><path d="M1258.25 362.72l3 6.5h-6z"/><path d="M1252.2 344.08l3 6.5h-6z"/><path d="M1255.5 341.6l3 6.5h-6z"/><path d="M1254.51 198.92l3 6.5h-6z"/><path d="M1242.96 380.67l3 6.5h-6z"/><path d="M1233.43 383.66l3 6.5h-6z"/><path d="M1254.67 308.6l3 6.5h-6z"/><path d="M1264.05 377.21l3 6.5h-6z"/><path d="M1240.55 376.87l3 6.5h-6z"/><path d="M1258.52 370.07l3 6.5h-6z"/><path d="M1246.4 370.26l3 6.5h-6z"/><path d="M1255.01 238.48l3 6.5h-6z"/><path d="M1267.55 366.84l3 6.5h-6z"/><path d="M1245.52 377.33l3 6.5h-6z"/><path d="M1255.5 330.05l3 6.5h-6z"/><path d="M1252.52 363.48l3 6.5h-6z"/><path d="M1248.57 359.29l3 6.5h-6z"/><path d="M1254.63 359.4l3 6.5h-6z"/><path d="M1242.77 373.31l3 6.5h-6z"/><path d="M1237.29 387.57l3 6.5h-6z"/><path d="M1264.11 363.03l3 6.5h-6z"/><path d="M1252.06 376.68l3 6.5h-6z"/><path d="M1249.33 367.21l3 6.5h-6z"/><path d="M1253.03 318.5l3 6.5h-6z"/><path d="M1266.92 373.34l3 6.5h-6z"/><path d="M1243.42 366.76l3 6.5h-6z"/><path d="M1269.97 383.31l3 6.5h-6z"/><path d="M1257.97 354.8l3 6.5h-6z"/><path d="M1242.45 386.91l3 6.5h-6z"/><path d="M1255.83 311.9l3 6.5h-6z"/><path d="M1254.67 269.33l3 6.5h-6z"/><path d="M1267.39 380.39l3 6.5h-6z"/><path d="M1251.46 370.1l3 6.5h-6z"/><path d="M1250.55 353.98l3 6.5h-6z"/><path d="M1239.81 383.26l3 6.5h-6z"/><path d="M1260.51 374.05l3 6.5h-6z"/><path d="M1253.85 333.35l3 6.5h-6z"/><path d="M1257.15 349.03l3 6.5h-6z"/><path d="M1253.85 351.5l3 6.5h-6z"/><path d="M1255.5 275.6l3 6.5h-6z"/><path d="M1260.82 360.32l3 6.5h-6z"/><path d="M1255.24 366.79l3 6.5h-6z"/><path d="M1255.3 380.23l3 6.5h-6z"/><path d="M1254.67 325.92l3 6.5h-6z"/><path d="M1248.76 373.57l3 6.5h-6z"/><path d="M1249.03 380.36l3 6.5h-6z"/><path d="M1246.56 363.04l3 6.5h-6z"/><path d="M1269.65 377.09l3 6.5h-6z"/><path d="M1272.59 387.52l3 6.5h-6z"/><path d="M1256.33 321.47l3 6.5h-6z"/><path d="M1255.01 175.82l3 6.5h-6z"/><path d="M1252.57 383.48l3 6.5h-6z"/><path d="M1257.83 376.49l3 6.5h-6z"/><path d="M1256.33 338.3l3 6.5h-6z"/><path d="M1260.96 386.76l3 6.5h-6z"/><path d="M1257.66 383.36l3 6.5h-6z"/><path d="M1255.5 265.37l3 6.5h-6z"/><path d="M1261.55 366.43l3 6.5h-6z"/><path d="M1258.8 344.08l3 6.5h-6z"/><path d="M1263.62 383.39l3 6.5h-6z"/><path d="M1255.01 235.22l3 6.5h-6z"/><path d="M1255.01 273.12l3 6.5h-6z"/><path d="M1263.9 370.25l3 6.5h-6z"/></g>
<g><path d="M1331.4 269l3 6.5h-6z"/><path d="M1344.02 387.69l3 6.5h-6z"/><path d="M1325.44 380.29l3 6.5h-6z"/><path d="M1344.18 360.04l3 6.5h-6z"/><path d="M1353.36 377.08l3 6.5h-6z"/><path d="M1336.91 387.36l3 6.5h-6z"/><path d="M1331.73 275.6l3 6.5h-6z"/><path d="M1316.12 384.31l3 6.5h-6z"/><path d="M1331.35 339.89l3 6.5h-6z"/><path d="M1333.74 370.44l3 6.5h-6z"/><path d="M1322 377.09l3 6.5h-6z"/><path d="M1333.05 292.1l3 6.5h-6z"/><path d="M1329.75 296.22l3 6.5h-6z"/><path d="M1340 343.73l3 6.5h-6z"/><path d="M1336.97 367.34l3 6.5h-6z"/><path d="M1349.53 387.36l3 6.5h-6z"/><path d="M1355.6 381.06l3 6.5h-6z"/><path d="M1327.64 343.64l3 6.5h-6z"/><path d="M1322.33 356.67l3 6.5h-6z"/><path d="M1318.81 374.21l3 6.5h-6z"/><path d="M1349.45 380.21l3 6.5h-6z"/><path d="M1331.4 325.1l3 6.5h-6z"/><path d="M1340.97 384.11l3 6.5h-6z"/><path d="M1309.79 384.27l3 6.5h-6z"/><path d="M1331.08 353.33l3 6.5h-6z"/><path d="M1340.43 356.41l3 6.5h-6z"/><path d="M1334.35 343.67l3 6.5h-6z"/><path d="M1346.92 384.48l3 6.5h-6z"/><path d="M1315.26 357.33l3 6.5h-6z"/><path d="M1336.99 339.62l3 6.5h-6z"/><path d="M1331.4 231.92l3 6.5h-6z"/><path d="M1328.1 315.2l3 6.5h-6z"/><path d="M1324.91 387.85l3 6.5h-6z"/><path d="M1343.71 367.59l3 6.5h-6z"/><path d="M1340.11 371.03l3 6.5h-6z"/><path d="M1334.12 384.33l3 6.5h-6z"/><path d="M1331.4 288.8l3 6.5h-6z"/><path d="M1322.04 350.12l3 6.5h-6z"/><path d="M1327.75 349.8l3 6.5h-6z"/><path d="M1330.58 307.78l3 6.5h-6z"/><path d="M1325.1 374.02l3 6.5h-6z"/><path d="M1343.84 374.11l3 6.5h-6z"/><path d="M1319.16 387.98l3 6.5h-6z"/><path d="M1310.09 377.2l3 6.5h-6z"/><path d="M1336.93 381.28l3 6.5h-6z"/><path d="M1325.22 346.93l3 6.5h-6z"/><path d="M1321.6 343.33l3 6.5h-6z"/><path d="M1321.99 370.27l3 6.5h-6z"/><path d="M1333.94 357.56l3 6.5h-6z"/><path d="M1332.22 316.03l3 6.5h-6z"/><path d="M1334.7 321.8l3 6.5h-6z"/><path d="M1343.24 381.36l3 6.5h-6z"/><path d="M1331.28 387.24l3 6.5h-6z"/><path d="M1334.37 298.7l3 6.5h-6z"/><path d="M1337.77 353.64l3 6.5h-6z"/><path d="M1349.62 373.8l3 6.5h-6z"/><path d="M1328.43 302l3 6.5h-6z"/><path d="M1340.05 349.63l3 6.5h-6z"/><path d="M1337.52 346.98l3 6.5h-6z"/><path d="M1346.67 377.82l3 6.5h-6z"/><path d="M1331.4 192.32l3 6.5h-6z"/><path d="M1352.71 384.65l3 6.5h-6z"/><path d="M1328.56 383.83l3 6.5h-6z"/><path d="M1325.12 353.97l3 6.5h-6z"/><path d="M1313.21 387.14l3 6.5h-6z"/><path d="M1331.3 367.25l3 6.5h-6z"/><path d="M1321.73 383.75l3 6.5h-6z"/><path d="M1331.71 373.49l3 6.5h-6z"/><path d="M1335.53 311.57l3 6.5h-6z"/><path d="M1312.54 373.48l3 6.5h-6z"/><path d="M1324.79 367.08l3 6.5h-6z"/><path d="M1328.1 370.53l3 6.5h-6z"/><path d="M1331.11 381l3 6.5h-6z"/><path d="M1329.75 320.15l3 6.5h-6z"/><path d="M1329.75 329.22l3 6.5h-6z"/><path d="M1343.14 346.75l3 6.5h-6z"/><path d="M1328.64 357.1l3 6.5h-6z"/><path d="M1325.33 360.2l3 6.5h-6z"/><path d="M1321.97 363.39l3 6.5h-6z"/><path d="M1331.4 238.97l3 6.5h-6z"/><path d="M1333.38 278.9l3 6.5h-6z"/><path d="M1331.07 347.1l3 6.5h-6z"/><path d="M1319.37 360.43l3 6.5h-6z"/><path d="M1340.49 376.93l3 6.5h-6z"/><path d="M1331.09 360.02l3 6.5h-6z"/><path d="M1331.4 113.13l3 6.5h-6z"/><path d="M1319.23 367.35l3 6.5h-6z"/><path d="M1329.75 282.2l3 6.5h-6z"/><path d="M1334.82 363.72l3 6.5h-6z"/><path d="M1312.8 380.24l3 6.5h-6z"/><path d="M1325.57 340.46l3 6.5h-6z"/><path d="M1341.01 364.16l3 6.5h-6z"/><path d="M1331.4 334.17l3 6.5h-6z"/><path d="M1315.64 377.77l3 6.5h-6z"/><path d="M1328.51 363.49l3 6.5h-6z"/><path d="M1334.76 377.39l3 6.5h-6z"/><path d="M1327.64 377.05l3 6.5h-6z"/><path d="M1346.95 370.19l3 6.5h-6z"/><path d="M1331.4 222.03l3 6.5h-6z"/><path d="M1316.28 370.08l3 6.5h-6z"/><path d="M1337.87 373.98l3 6.5h-6z"/><path d="M1346.96 357.55l3 6.5h-6z"/><path d="M1337.39 360.02l3 6.5h-6z"/><path d="M1334.7 331.7l3 6.5h-6z"/><path d="M1346.96 363.68l3 6.5h-6z"/><path d="M1334.71 349.82l3 6.5h-6z"/><path d="M1318.57 380.62l3 6.5h-6z"/></g>
<g><path d="M1397.4 376.25l3 6.5h-6z"/><path d="M1410.11 337.97l3 6.5h-6z"/><path d="M1409.78 291.77l3 6.5h-6z"/><path d="M1385.52 374.27l3 6.5h-6z"/><path d="M1397.4 352.33l3 6.5h-6z"/><path d="M1401.53 377.08l3 6.5h-6z"/><path d="M1405.65 337.97l3 6.5h-6z"/><path d="M1411.42 386.48l3 6.5h-6z"/><path d="M1426.28 364.37l3 6.5h-6z"/><path d="M1410.11 278.9l3 6.5h-6z"/><path d="M1401.53 358.1l3 6.5h-6z"/><path d="M1418.03 377.57l3 6.5h-6z"/><path d="M1405.65 349.03l3 6.5h-6z"/><path d="M1405.32 278.9l3 6.5h-6z"/><path d="M1404 386.48l3 6.5h-6z"/><path d="M1418.03 371.3l3 6.5h-6z"/><path d="M1413.9 380.87l3 6.5h-6z"/><path d="M1407.63 385.33l3 6.5h-6z"/><path d="M1389.15 364.37l3 6.5h-6z"/><path d="M1397.4 371.3l3 6.5h-6z"/><path d="M1409.78 377.57l3 6.5h-6z"/><path d="M1422.15 348.2l3 6.5h-6z"/><path d="M1413.9 301.67l3 6.5h-6z"/><path d="M1393.28 374.6l3 6.5h-6z"/><path d="M1407.63 255.47l3 6.5h-6z"/><path d="M1407.63 328.4l3 6.5h-6z"/><path d="M1405.65 377.08l3 6.5h-6z"/><path d="M1418.03 350.67l3 6.5h-6z"/><path d="M1407.63 321.47l3 6.5h-6z"/><path d="M1397.4 365.53l3 6.5h-6z"/><path d="M1413.9 353.98l3 6.5h-6z"/><path d="M1409.78 368l3 6.5h-6z"/><path d="M1413.9 377.08l3 6.5h-6z"/><path d="M1413.9 371.3l3 6.5h-6z"/><path d="M1409.78 179.46l3 6.5h-6z"/><path d="M1393.28 302l3 6.5h-6z"/><path d="M1422.15 364.37l3 6.5h-6z"/><path d="M1413.9 363.87l3 6.5h-6z"/><path d="M1405.32 179.46l3 6.5h-6z"/><path d="M1393.28 348.2l3 6.5h-6z"/><path d="M1397.4 304.97l3 6.5h-6z"/><path d="M1405.32 288.47l3 6.5h-6z"/><path d="M1397.4 379.88l3 6.5h-6z"/><path d="M1409.78 308.27l3 6.5h-6z"/><path d="M1401.53 304.48l3 6.5h-6z"/><path d="M1413.9 308.27l3 6.5h-6z"/><path d="M1405.65 308.27l3 6.5h-6z"/><path d="M1426.28 374.27l3 6.5h-6z"/><path d="M1397.4 358.1l3 6.5h-6z"/><path d="M1405.65 381.2l3 6.5h-6z"/></g>
</g>
<g stroke="#231f20" fill="none">
<line x1="1153.5" y1="390.9" x2="1204" y2="390.9" stroke-width="3.4"/>
<line x1="1255" y1="374.6" x2="1255" y2="379.2" stroke-width="1.6"/>
<line x1="1242.38" y1="374.6" x2="1267.62" y2="374.6" stroke-width="1.6"/>
<line x1="1242.38" y1="379.2" x2="1267.62" y2="379.2" stroke-width="1.6"/>
<line x1="1229.75" y1="376.9" x2="1280.25" y2="376.9" stroke-width="3.4"/>
<line x1="1331.25" y1="367" x2="1331.25" y2="371.8" stroke-width="1.6"/>
<line x1="1318.62" y1="367" x2="1343.88" y2="367" stroke-width="1.6"/>
<line x1="1318.62" y1="371.8" x2="1343.88" y2="371.8" stroke-width="1.6"/>
<line x1="1306" y1="369.4" x2="1356.5" y2="369.4" stroke-width="3.4"/>
<line x1="1407.9" y1="347.9" x2="1407.9" y2="367.1" stroke-width="1.6"/>
<line x1="1395.28" y1="347.9" x2="1420.53" y2="347.9" stroke-width="1.6"/>
<line x1="1395.28" y1="367.1" x2="1420.53" y2="367.1" stroke-width="1.6"/>
<line x1="1382.65" y1="358.75" x2="1433.15" y2="358.75" stroke-width="3.4"/>
</g>
</g>
<g id="A4">
<g stroke="#231f20" fill="none">
<line x1="1613.5" y1="394.4" x2="1960.6" y2="394.4" stroke-width="3.2"/>
<line x1="1627.9" y1="61.9" x2="1627.9" y2="396" stroke-width="3.2"/>
<line x1="1613.5" y1="93.75" x2="1627.9" y2="93.75" stroke-width="3.2"/>
<line x1="1613.5" y1="244.1" x2="1627.9" y2="244.1" stroke-width="3.2"/>
<line x1="1678.75" y1="394.4" x2="1678.75" y2="408.25" stroke-width="3.2"/>
<line x1="1755" y1="394.4" x2="1755" y2="408.25" stroke-width="3.2"/>
<line x1="1831.25" y1="394.4" x2="1831.25" y2="408.25" stroke-width="3.2"/>
<line x1="1907.9" y1="394.4" x2="1907.9" y2="408.25" stroke-width="3.2"/>
<line x1="1626.9" y1="363.5" x2="1955" y2="363.5" stroke-width="1.55" stroke-dasharray="5.5 2.75" stroke-dashoffset="0.6"/>
</g>
<g fill="#231f20" stroke="#231f20" stroke-width="0.5" stroke-linejoin="round" font-family="'Liberation Sans', sans-serif" font-weight="700">
<text transform="translate(1610.3 102.74) scale(1 0.96)" font-size="24.7" text-anchor="end">100</text>
<text transform="translate(1610.3 253.09) scale(1 0.96)" font-size="24.7" text-anchor="end">50</text>
<text transform="translate(1610.3 403.39) scale(1 0.96)" font-size="24.7" text-anchor="end">0</text>
<text transform="translate(1678.75 434.7) scale(1 0.97)" font-size="24.7" text-anchor="middle">0d</text>
<text transform="translate(1755 434.7) scale(1 0.97)" font-size="24.7" text-anchor="middle">3wk</text>
<text transform="translate(1831.25 434.7) scale(1 0.97)" font-size="24.7" text-anchor="middle">6wk</text>
<text transform="translate(1907.9 434.7) scale(1 0.97)" font-size="24.7" text-anchor="middle">Conv</text>
<text transform="translate(1793.5 20.6) scale(1 1.05)" font-size="27.35" text-anchor="middle">anti-S1 total Ig</text>
<text transform="translate(1552 229.8) rotate(-90) scale(1 1.04)" font-size="26.36" text-anchor="middle">EIA Units</text>
</g>
<g id="A4-pts" fill="#97999c" stroke="#231f20" stroke-width="0.95" stroke-linejoin="miter">
<g><path d="M1663.58 388.07l3 6.5h-6z"/><path d="M1668.88 382.9l3 6.5h-6z"/><path d="M1674.94 386.48l3 6.5h-6z"/><path d="M1685.55 386.2l3 6.5h-6z"/><path d="M1675.47 375.42l3 6.5h-6z"/><path d="M1677.12 388.27l3 6.5h-6z"/><path d="M1673.83 382.9l3 6.5h-6z"/><path d="M1677.95 360.58l3 6.5h-6z"/><path d="M1691.97 382.9l3 6.5h-6z"/><path d="M1662.28 382.9l3 6.5h-6z"/><path d="M1678.78 292.1l3 6.5h-6z"/><path d="M1687.37 388.24l3 6.5h-6z"/><path d="M1670.2 388.44l3 6.5h-6z"/><path d="M1671.88 386.39l3 6.5h-6z"/><path d="M1678.78 352.33l3 6.5h-6z"/><path d="M1673.92 388.08l3 6.5h-6z"/><path d="M1660.72 386.12l3 6.5h-6z"/><path d="M1680.33 388.6l3 6.5h-6z"/><path d="M1693.53 388.57l3 6.5h-6z"/><path d="M1695.28 382.9l3 6.5h-6z"/><path d="M1679.93 369.65l3 6.5h-6z"/><path d="M1678.78 357.28l3 6.5h-6z"/><path d="M1656.86 388.07l3 6.5h-6z"/><path d="M1677.12 382.9l3 6.5h-6z"/><path d="M1664.69 386.59l3 6.5h-6z"/><path d="M1690.09 388.2l3 6.5h-6z"/><path d="M1683.39 388.01l3 6.5h-6z"/><path d="M1680.42 372.95l3 6.5h-6z"/><path d="M1693.2 386.5l3 6.5h-6z"/><path d="M1657.61 386.5l3 6.5h-6z"/><path d="M1665.58 382.9l3 6.5h-6z"/><path d="M1677.62 368l3 6.5h-6z"/><path d="M1689.37 386.24l3 6.5h-6z"/><path d="M1700.64 386.47l3 6.5h-6z"/><path d="M1678.93 386.12l3 6.5h-6z"/><path d="M1666.96 388.45l3 6.5h-6z"/><path d="M1678.78 364.7l3 6.5h-6z"/><path d="M1660.47 388.41l3 6.5h-6z"/><path d="M1678.78 345.72l3 6.5h-6z"/><path d="M1657.33 382.9l3 6.5h-6z"/><path d="M1697.04 386.59l3 6.5h-6z"/><path d="M1679.6 362.22l3 6.5h-6z"/><path d="M1682.08 382.9l3 6.5h-6z"/><path d="M1682.45 386.13l3 6.5h-6z"/><path d="M1696.71 388.13l3 6.5h-6z"/><path d="M1667.62 386.44l3 6.5h-6z"/><path d="M1700.32 388.33l3 6.5h-6z"/><path d="M1678.78 377.9l3 6.5h-6z"/><path d="M1687.85 382.9l3 6.5h-6z"/></g>
<g><path d="M1762.1 210.38l3 6.5h-6z"/><path d="M1752.2 369.98l3 6.5h-6z"/><path d="M1752.2 387.8l3 6.5h-6z"/><path d="M1757.15 369.98l3 6.5h-6z"/><path d="M1752.2 330.87l3 6.5h-6z"/><path d="M1732.4 310.25l3 6.5h-6z"/><path d="M1757.15 354.8l3 6.5h-6z"/><path d="M1757.48 123.75l3 6.5h-6z"/><path d="M1757.15 159.72l3 6.5h-6z"/><path d="M1762.1 192.39l3 6.5h-6z"/><path d="M1752.2 288.47l3 6.5h-6z"/><path d="M1747.25 195.53l3 6.5h-6z"/><path d="M1762.1 316.03l3 6.5h-6z"/><path d="M1757.15 210.38l3 6.5h-6z"/><path d="M1752.2 360.58l3 6.5h-6z"/><path d="M1742.3 222.42l3 6.5h-6z"/><path d="M1737.35 228.57l3 6.5h-6z"/><path d="M1752.2 183.48l3 6.5h-6z"/><path d="M1752.2 207.07l3 6.5h-6z"/><path d="M1757.15 228.57l3 6.5h-6z"/><path d="M1762.1 249.53l3 6.5h-6z"/><path d="M1742.3 246.72l3 6.5h-6z"/><path d="M1767.05 324.77l3 6.5h-6z"/><path d="M1772 330.87l3 6.5h-6z"/><path d="M1757.15 249.53l3 6.5h-6z"/><path d="M1762.1 336.65l3 6.5h-6z"/><path d="M1767.05 366.85l3 6.5h-6z"/><path d="M1742.3 264.38l3 6.5h-6z"/><path d="M1762.1 285.5l3 6.5h-6z"/><path d="M1762.1 147.67l3 6.5h-6z"/><path d="M1742.3 283.03l3 6.5h-6z"/><path d="M1767.05 357.77l3 6.5h-6z"/><path d="M1762.1 363.87l3 6.5h-6z"/><path d="M1752.2 310.25l3 6.5h-6z"/><path d="M1772 252.5l3 6.5h-6z"/><path d="M1742.3 183.48l3 6.5h-6z"/><path d="M1737.35 267.35l3 6.5h-6z"/><path d="M1757.15 285.5l3 6.5h-6z"/><path d="M1747.25 312.72l3 6.5h-6z"/><path d="M1772 213.67l3 6.5h-6z"/><path d="M1742.3 255.8l3 6.5h-6z"/><path d="M1767.05 270.32l3 6.5h-6z"/><path d="M1732.4 237.65l3 6.5h-6z"/><path d="M1767.05 297.87l3 6.5h-6z"/><path d="M1757.15 150.48l3 6.5h-6z"/><path d="M1737.35 312.72l3 6.5h-6z"/><path d="M1752.2 216.48l3 6.5h-6z"/><path d="M1747.25 303.65l3 6.5h-6z"/><path d="M1767.05 316.03l3 6.5h-6z"/><path d="M1742.3 174.41l3 6.5h-6z"/><path d="M1747.25 207.07l3 6.5h-6z"/><path d="M1767.05 252.5l3 6.5h-6z"/><path d="M1762.1 351.83l3 6.5h-6z"/><path d="M1757.15 345.72l3 6.5h-6z"/><path d="M1747.25 275.93l3 6.5h-6z"/><path d="M1767.05 216.48l3 6.5h-6z"/><path d="M1752.2 321.8l3 6.5h-6z"/><path d="M1762.1 267.35l3 6.5h-6z"/><path d="M1767.05 306.62l3 6.5h-6z"/><path d="M1762.1 275.93l3 6.5h-6z"/><path d="M1737.35 240.62l3 6.5h-6z"/><path d="M1737.35 249.53l3 6.5h-6z"/><path d="M1742.3 357.77l3 6.5h-6z"/><path d="M1767.05 288.47l3 6.5h-6z"/><path d="M1757.15 240.62l3 6.5h-6z"/><path d="M1747.25 285.5l3 6.5h-6z"/><path d="M1742.3 273.95l3 6.5h-6z"/><path d="M1752.2 297.87l3 6.5h-6z"/><path d="M1742.3 210.38l3 6.5h-6z"/><path d="M1737.35 204.6l3 6.5h-6z"/><path d="M1747.25 240.62l3 6.5h-6z"/><path d="M1776.95 234.35l3 6.5h-6z"/><path d="M1747.25 349.03l3 6.5h-6z"/><path d="M1742.3 234.35l3 6.5h-6z"/><path d="M1737.35 294.58l3 6.5h-6z"/><path d="M1772 291.77l3 6.5h-6z"/><path d="M1767.05 177.38l3 6.5h-6z"/><path d="M1772 261.58l3 6.5h-6z"/><path d="M1737.35 213.67l3 6.5h-6z"/><path d="M1757.15 168.3l3 6.5h-6z"/><path d="M1762.1 324.77l3 6.5h-6z"/><path d="M1762.1 240.62l3 6.5h-6z"/><path d="M1747.25 366.85l3 6.5h-6z"/><path d="M1742.3 192.39l3 6.5h-6z"/><path d="M1747.25 294.58l3 6.5h-6z"/><path d="M1762.1 156.42l3 6.5h-6z"/><path d="M1757.15 135.3l3 6.5h-6z"/><path d="M1752.53 141.57l3 6.5h-6z"/><path d="M1772 312.72l3 6.5h-6z"/><path d="M1747.25 231.05l3 6.5h-6z"/><path d="M1747.25 174.41l3 6.5h-6z"/><path d="M1757.48 111.38l3 6.5h-6z"/><path d="M1772 228.57l3 6.5h-6z"/><path d="M1747.25 138.1l3 6.5h-6z"/><path d="M1747.25 267.35l3 6.5h-6z"/><path d="M1757.15 381.53l3 6.5h-6z"/><path d="M1767.05 345.72l3 6.5h-6z"/><path d="M1776.95 334.17l3 6.5h-6z"/><path d="M1747.25 357.77l3 6.5h-6z"/><path d="M1767.05 189.42l3 6.5h-6z"/><path d="M1762.1 294.58l3 6.5h-6z"/><path d="M1772 204.6l3 6.5h-6z"/><path d="M1752.2 195.53l3 6.5h-6z"/><path d="M1757.15 336.65l3 6.5h-6z"/><path d="M1752.2 378.23l3 6.5h-6z"/><path d="M1776.95 246.72l3 6.5h-6z"/><path d="M1747.25 129.19l3 6.5h-6z"/><path d="M1737.35 285.5l3 6.5h-6z"/><path d="M1742.3 141.57l3 6.5h-6z"/><path d="M1772 321.8l3 6.5h-6z"/><path d="M1742.3 336.65l3 6.5h-6z"/><path d="M1772 243.42l3 6.5h-6z"/><path d="M1767.05 198.33l3 6.5h-6z"/><path d="M1752.2 351.83l3 6.5h-6z"/><path d="M1757.15 306.62l3 6.5h-6z"/><path d="M1742.3 291.77l3 6.5h-6z"/><path d="M1752.2 240.62l3 6.5h-6z"/><path d="M1762.1 171.27l3 6.5h-6z"/><path d="M1767.05 234.35l3 6.5h-6z"/><path d="M1742.3 310.25l3 6.5h-6z"/><path d="M1772 273.95l3 6.5h-6z"/><path d="M1742.3 201.3l3 6.5h-6z"/><path d="M1762.1 228.57l3 6.5h-6z"/><path d="M1737.35 334.17l3 6.5h-6z"/><path d="M1762.1 183.48l3 6.5h-6z"/><path d="M1767.05 207.07l3 6.5h-6z"/><path d="M1767.05 243.42l3 6.5h-6z"/><path d="M1752.2 339.95l3 6.5h-6z"/><path d="M1767.38 141.57l3 6.5h-6z"/><path d="M1757.15 297.87l3 6.5h-6z"/><path d="M1752.53 129.19l3 6.5h-6z"/><path d="M1737.35 303.65l3 6.5h-6z"/><path d="M1762.1 201.3l3 6.5h-6z"/><path d="M1757.15 183.48l3 6.5h-6z"/><path d="M1742.3 366.85l3 6.5h-6z"/><path d="M1737.35 189.42l3 6.5h-6z"/><path d="M1767.05 261.58l3 6.5h-6z"/><path d="M1752.53 171.27l3 6.5h-6z"/><path d="M1772 303.65l3 6.5h-6z"/><path d="M1747.25 336.65l3 6.5h-6z"/><path d="M1732.4 246.72l3 6.5h-6z"/><path d="M1747.25 216.48l3 6.5h-6z"/><path d="M1757.15 316.03l3 6.5h-6z"/><path d="M1752.53 114.68l3 6.5h-6z"/><path d="M1747.25 327.58l3 6.5h-6z"/><path d="M1772 189.42l3 6.5h-6z"/><path d="M1767.05 334.17l3 6.5h-6z"/><path d="M1754.67 96.52l3 6.5h-6z"/><path d="M1737.35 275.93l3 6.5h-6z"/><path d="M1776.95 310.25l3 6.5h-6z"/><path d="M1742.3 327.58l3 6.5h-6z"/><path d="M1747.25 150.48l3 6.5h-6z"/><path d="M1752.2 261.58l3 6.5h-6z"/><path d="M1757.15 324.77l3 6.5h-6z"/><path d="M1762.1 258.28l3 6.5h-6z"/><path d="M1772 177.38l3 6.5h-6z"/><path d="M1762.1 138.1l3 6.5h-6z"/><path d="M1762.43 129.19l3 6.5h-6z"/><path d="M1742.3 318.83l3 6.5h-6z"/><path d="M1767.05 226.1l3 6.5h-6z"/><path d="M1747.25 249.53l3 6.5h-6z"/><path d="M1757.15 195.53l3 6.5h-6z"/><path d="M1762.1 219.45l3 6.5h-6z"/><path d="M1767.05 168.3l3 6.5h-6z"/></g>
<g><path d="M1831.4 178.2l3 6.5h-6z"/><path d="M1827.59 98.79l3 6.5h-6z"/><path d="M1830.88 102.57l3 6.5h-6z"/><path d="M1846.37 123.43l3 6.5h-6z"/><path d="M1843.9 126.82l3 6.5h-6z"/><path d="M1830.58 204.6l3 6.5h-6z"/><path d="M1822.28 144.36l3 6.5h-6z"/><path d="M1828.51 149.27l3 6.5h-6z"/><path d="M1843.37 114.82l3 6.5h-6z"/><path d="M1840.98 129.73l3 6.5h-6z"/><path d="M1834.24 99.27l3 6.5h-6z"/><path d="M1812.68 127.29l3 6.5h-6z"/><path d="M1849.42 128.33l3 6.5h-6z"/><path d="M1816.29 124.68l3 6.5h-6z"/><path d="M1822.47 130.24l3 6.5h-6z"/><path d="M1831.4 192.72l3 6.5h-6z"/><path d="M1840.2 116.96l3 6.5h-6z"/><path d="M1831.4 165.82l3 6.5h-6z"/><path d="M1832.22 204.6l3 6.5h-6z"/><path d="M1834.13 79.82l3 6.5h-6z"/><path d="M1824.49 102.73l3 6.5h-6z"/><path d="M1827.58 130.05l3 6.5h-6z"/><path d="M1833.99 136.04l3 6.5h-6z"/><path d="M1812.25 121.87l3 6.5h-6z"/><path d="M1853.69 120l3 6.5h-6z"/><path d="M1837.19 94.99l3 6.5h-6z"/><path d="M1837.22 153.27l3 6.5h-6z"/><path d="M1837.05 115l3 6.5h-6z"/><path d="M1834.13 123.85l3 6.5h-6z"/><path d="M1831.29 78.46l3 6.5h-6z"/><path d="M1821.67 155.4l3 6.5h-6z"/><path d="M1822.29 136.86l3 6.5h-6z"/><path d="M1830.58 162.53l3 6.5h-6z"/><path d="M1828.13 143l3 6.5h-6z"/><path d="M1846.68 111.22l3 6.5h-6z"/><path d="M1852.82 123.43l3 6.5h-6z"/><path d="M1834.38 142.94l3 6.5h-6z"/><path d="M1849.5 120.2l3 6.5h-6z"/><path d="M1818.51 126.42l3 6.5h-6z"/><path d="M1828.61 155.24l3 6.5h-6z"/><path d="M1831.4 237.65l3 6.5h-6z"/><path d="M1840.11 104.21l3 6.5h-6z"/><path d="M1821.35 123.19l3 6.5h-6z"/><path d="M1843.66 139.94l3 6.5h-6z"/><path d="M1828.43 117.95l3 6.5h-6z"/><path d="M1834.35 131.15l3 6.5h-6z"/><path d="M1841.01 156.04l3 6.5h-6z"/><path d="M1840.39 136.93l3 6.5h-6z"/><path d="M1834.77 150.64l3 6.5h-6z"/><path d="M1840.07 148.84l3 6.5h-6z"/><path d="M1825 113.62l3 6.5h-6z"/><path d="M1825.08 152.54l3 6.5h-6z"/><path d="M1837.8 120.25l3 6.5h-6z"/><path d="M1828.59 111.78l3 6.5h-6z"/><path d="M1833.88 186.45l3 6.5h-6z"/><path d="M1834.62 105.09l3 6.5h-6z"/><path d="M1840.59 98.94l3 6.5h-6z"/><path d="M1831.73 140.31l3 6.5h-6z"/><path d="M1815.27 131.52l3 6.5h-6z"/><path d="M1837.11 134.11l3 6.5h-6z"/><path d="M1818.74 140.69l3 6.5h-6z"/><path d="M1831.62 147.43l3 6.5h-6z"/><path d="M1831.75 120.8l3 6.5h-6z"/><path d="M1833.95 92.48l3 6.5h-6z"/><path d="M1836.97 101.42l3 6.5h-6z"/><path d="M1816.29 118.44l3 6.5h-6z"/><path d="M1824.94 134.4l3 6.5h-6z"/><path d="M1843.05 121.54l3 6.5h-6z"/><path d="M1831.39 89.61l3 6.5h-6z"/><path d="M1831.16 96.26l3 6.5h-6z"/><path d="M1843.6 107.93l3 6.5h-6z"/><path d="M1837.79 145.96l3 6.5h-6z"/><path d="M1822.3 118.63l3 6.5h-6z"/><path d="M1831.07 172.42l3 6.5h-6z"/><path d="M1828.31 92.96l3 6.5h-6z"/><path d="M1831.5 134.59l3 6.5h-6z"/><path d="M1831.29 68.99l3 6.5h-6z"/><path d="M1824.83 127.1l3 6.5h-6z"/><path d="M1841.03 142.85l3 6.5h-6z"/><path d="M1818.3 107.73l3 6.5h-6z"/><path d="M1824.66 108.48l3 6.5h-6z"/><path d="M1837.88 141.16l3 6.5h-6z"/><path d="M1831.41 153.22l3 6.5h-6z"/><path d="M1818.54 115.33l3 6.5h-6z"/><path d="M1819.34 121.52l3 6.5h-6z"/><path d="M1827.64 137.51l3 6.5h-6z"/><path d="M1831.4 213.67l3 6.5h-6z"/><path d="M1837.77 107.79l3 6.5h-6z"/><path d="M1831.4 321.8l3 6.5h-6z"/><path d="M1831.59 114.22l3 6.5h-6z"/><path d="M1825.03 96.31l3 6.5h-6z"/><path d="M1821.98 111.26l3 6.5h-6z"/><path d="M1837.37 127.14l3 6.5h-6z"/><path d="M1834.75 118.02l3 6.5h-6z"/><path d="M1815.26 112.12l3 6.5h-6z"/><path d="M1828.92 186.45l3 6.5h-6z"/><path d="M1831.19 107.89l3 6.5h-6z"/><path d="M1846.83 117.92l3 6.5h-6z"/><path d="M1827.66 104.04l3 6.5h-6z"/><path d="M1831.4 186.45l3 6.5h-6z"/><path d="M1833.8 156.01l3 6.5h-6z"/><path d="M1824.59 140.22l3 6.5h-6z"/><path d="M1825.62 121.33l3 6.5h-6z"/><path d="M1840.47 123.58l3 6.5h-6z"/><path d="M1828.27 123.83l3 6.5h-6z"/><path d="M1828.66 79.82l3 6.5h-6z"/><path d="M1830.99 128.04l3 6.5h-6z"/><path d="M1831.73 169.13l3 6.5h-6z"/><path d="M1843.35 100.79l3 6.5h-6z"/><path d="M1834.32 111.6l3 6.5h-6z"/><path d="M1821.69 104.76l3 6.5h-6z"/><path d="M1824.79 147.29l3 6.5h-6z"/><path d="M1840.03 111.58l3 6.5h-6z"/><path d="M1846.35 129.97l3 6.5h-6z"/><path d="M1809.89 124.66l3 6.5h-6z"/></g>
<g><path d="M1915.06 336.32l3 6.5h-6z"/><path d="M1907.63 231.88l3 6.5h-6z"/><path d="M1907.63 328.07l3 6.5h-6z"/><path d="M1907.63 366.85l3 6.5h-6z"/><path d="M1907.63 339.95l3 6.5h-6z"/><path d="M1915.06 261.58l3 6.5h-6z"/><path d="M1907.63 357.77l3 6.5h-6z"/><path d="M1915.06 273.95l3 6.5h-6z"/><path d="M1915.06 316.03l3 6.5h-6z"/><path d="M1907.63 375.92l3 6.5h-6z"/><path d="M1900.2 219.78l3 6.5h-6z"/><path d="M1915.06 291.6l3 6.5h-6z"/><path d="M1911.42 189.75l3 6.5h-6z"/><path d="M1922.48 294.58l3 6.5h-6z"/><path d="M1904 387.8l3 6.5h-6z"/><path d="M1922.48 312.72l3 6.5h-6z"/><path d="M1907.63 349.03l3 6.5h-6z"/><path d="M1911.42 201.63l3 6.5h-6z"/><path d="M1907.63 252.5l3 6.5h-6z"/><path d="M1922.48 361.07l3 6.5h-6z"/><path d="M1922.48 349.03l3 6.5h-6z"/><path d="M1907.63 219.78l3 6.5h-6z"/><path d="M1915.06 246.72l3 6.5h-6z"/><path d="M1900.37 366.85l3 6.5h-6z"/><path d="M1903.51 189.75l3 6.5h-6z"/><path d="M1907.63 279.72l3 6.5h-6z"/><path d="M1915.06 324.77l3 6.5h-6z"/><path d="M1915.06 361.07l3 6.5h-6z"/><path d="M1885.85 361.07l3 6.5h-6z"/><path d="M1907.63 144.71l3 6.5h-6z"/><path d="M1900.37 357.77l3 6.5h-6z"/><path d="M1911.42 385.33l3 6.5h-6z"/><path d="M1900.37 285.5l3 6.5h-6z"/><path d="M1929.9 354.8l3 6.5h-6z"/><path d="M1915.06 226.1l3 6.5h-6z"/><path d="M1892.94 345.72l3 6.5h-6z"/><path d="M1907.63 210.7l3 6.5h-6z"/><path d="M1907.63 297.87l3 6.5h-6z"/><path d="M1892.94 294.58l3 6.5h-6z"/><path d="M1900.37 324.77l3 6.5h-6z"/><path d="M1903.51 198.33l3 6.5h-6z"/><path d="M1900.37 309.92l3 6.5h-6z"/><path d="M1907.63 309.92l3 6.5h-6z"/><path d="M1915.06 369.98l3 6.5h-6z"/><path d="M1907.63 264.87l3 6.5h-6z"/><path d="M1907.63 162.85l3 6.5h-6z"/><path d="M1892.94 357.77l3 6.5h-6z"/><path d="M1892.94 309.92l3 6.5h-6z"/><path d="M1915.06 345.72l3 6.5h-6z"/></g>
</g>
<g stroke="#231f20" fill="none">
<line x1="1653.5" y1="389.5" x2="1704" y2="389.5" stroke-width="3.4"/>
<line x1="1755" y1="270" x2="1755" y2="296" stroke-width="1.6"/>
<line x1="1742.38" y1="270" x2="1767.62" y2="270" stroke-width="1.6"/>
<line x1="1742.38" y1="296" x2="1767.62" y2="296" stroke-width="1.6"/>
<line x1="1729.75" y1="283.5" x2="1780.25" y2="283.5" stroke-width="3.4"/>
<line x1="1831.25" y1="130" x2="1831.25" y2="139" stroke-width="1.6"/>
<line x1="1818.62" y1="130" x2="1843.88" y2="130" stroke-width="1.6"/>
<line x1="1818.62" y1="139" x2="1843.88" y2="139" stroke-width="1.6"/>
<line x1="1806" y1="134.5" x2="1856.5" y2="134.5" stroke-width="3.4"/>
<line x1="1907.9" y1="306.5" x2="1907.9" y2="342" stroke-width="1.6"/>
<line x1="1895.28" y1="306.5" x2="1920.53" y2="306.5" stroke-width="1.6"/>
<line x1="1895.28" y1="342" x2="1920.53" y2="342" stroke-width="1.6"/>
<line x1="1882.65" y1="326.5" x2="1933.15" y2="326.5" stroke-width="3.4"/>
</g>
</g>
<g id="B1">
<g stroke="#231f20" fill="none">
<line x1="126.2" y1="1000.6" x2="502.5" y2="1000.6" stroke-width="3.4"/>
<line x1="141.1" y1="639.3" x2="141.1" y2="1002.3" stroke-width="3.4"/>
<line x1="126.2" y1="641" x2="141.1" y2="641" stroke-width="3.4"/>
<line x1="132.76" y1="730.9" x2="141.1" y2="730.9" stroke-width="3.4"/>
<line x1="126.2" y1="820.8" x2="141.1" y2="820.8" stroke-width="3.4"/>
<line x1="132.76" y1="910.7" x2="141.1" y2="910.7" stroke-width="3.4"/>
<line x1="196.25" y1="1000.6" x2="196.25" y2="1015.6" stroke-width="3.4"/>
<line x1="279.1" y1="1000.6" x2="279.1" y2="1015.6" stroke-width="3.4"/>
<line x1="362.25" y1="1000.6" x2="362.25" y2="1015.6" stroke-width="3.4"/>
<line x1="445.25" y1="1000.6" x2="445.25" y2="1015.6" stroke-width="3.4"/>
<line x1="140" y1="961.6" x2="496.25" y2="961.6" stroke-width="2.05" stroke-dasharray="6 3" stroke-dashoffset="0.6"/>
</g>
<g fill="#231f20" stroke="#231f20" stroke-width="0.5" stroke-linejoin="round" font-family="'Liberation Sans', sans-serif" font-weight="700">
<text transform="translate(122.2 650.8) scale(1 1.02)" font-size="27" text-anchor="end">100</text>
<text transform="translate(122.2 830.6) scale(1 1.02)" font-size="27" text-anchor="end">50</text>
<text transform="translate(122.2 1010.4) scale(1 1.02)" font-size="27" text-anchor="end">0</text>
<text transform="translate(196.25 1044.6) scale(1 1.02)" font-size="27" text-anchor="middle">0d</text>
<text transform="translate(279.1 1044.6) scale(1 1.02)" font-size="27" text-anchor="middle">3wk</text>
<text transform="translate(362.25 1044.6) scale(1 1.02)" font-size="27" text-anchor="middle">6wk</text>
<text transform="translate(445.25 1044.6) scale(1 1.02)" font-size="27" text-anchor="middle">Conv</text>
<text transform="translate(321.8 594) scale(1 1.05)" font-size="29.7" text-anchor="middle">anti-N IgG</text>
<text transform="translate(58.5 820.5) rotate(-90) scale(1 1.04)" font-size="29.11" text-anchor="middle">EIA Units</text>
</g>
<g id="B1-pts" fill="#97999c" stroke="#231f20" stroke-width="1" stroke-linejoin="miter">
<g><path d="M192.64 993.4l3.65 7.4h-7.3z"/><path d="M187.41 990.45l3.65 7.4h-7.3z"/><path d="M199.57 993.24l3.65 7.4h-7.3z"/><path d="M197.84 990.26l3.65 7.4h-7.3z"/><path d="M219.41 990.55l3.65 7.4h-7.3z"/><path d="M205.14 990.27l3.65 7.4h-7.3z"/><path d="M186.01 993.53l3.65 7.4h-7.3z"/><path d="M215.79 990.54l3.65 7.4h-7.3z"/><path d="M201.72 981.05l3.65 7.4h-7.3z"/><path d="M194.74 990.58l3.65 7.4h-7.3z"/><path d="M190.96 990.25l3.65 7.4h-7.3z"/><path d="M189.87 993.18l3.65 7.4h-7.3z"/><path d="M212.92 993.53l3.65 7.4h-7.3z"/><path d="M196.3 928.33l3.65 7.4h-7.3z"/><path d="M196.3 867.27l3.65 7.4h-7.3z"/><path d="M203.6 985.25l3.65 7.4h-7.3z"/><path d="M197.5 965.5l3.65 7.4h-7.3z"/><path d="M179.81 990.4l3.65 7.4h-7.3z"/><path d="M212.15 990.41l3.65 7.4h-7.3z"/><path d="M216.35 993.19l3.65 7.4h-7.3z"/><path d="M188.59 984.52l3.65 7.4h-7.3z"/><path d="M196.25 959.88l3.65 7.4h-7.3z"/><path d="M176.43 993.59l3.65 7.4h-7.3z"/><path d="M198.51 985.32l3.65 7.4h-7.3z"/><path d="M183.41 990.53l3.65 7.4h-7.3z"/><path d="M176.83 990.45l3.65 7.4h-7.3z"/><path d="M179.25 993.19l3.65 7.4h-7.3z"/><path d="M209.5 993.45l3.65 7.4h-7.3z"/><path d="M193.74 978.08l3.65 7.4h-7.3z"/><path d="M195.62 963l3.65 7.4h-7.3z"/><path d="M196.3 935.75l3.65 7.4h-7.3z"/><path d="M172.65 993.55l3.65 7.4h-7.3z"/><path d="M206.2 993.44l3.65 7.4h-7.3z"/><path d="M196.25 968.62l3.65 7.4h-7.3z"/><path d="M172.58 990.52l3.65 7.4h-7.3z"/><path d="M196.3 945.98l3.65 7.4h-7.3z"/><path d="M196.18 981.04l3.65 7.4h-7.3z"/><path d="M202.52 993.08l3.65 7.4h-7.3z"/><path d="M195.93 973.85l3.65 7.4h-7.3z"/><path d="M191.39 981.64l3.65 7.4h-7.3z"/><path d="M196.3 920.9l3.65 7.4h-7.3z"/><path d="M201.81 990.41l3.65 7.4h-7.3z"/><path d="M196.25 971.75l3.65 7.4h-7.3z"/><path d="M219.26 993.04l3.65 7.4h-7.3z"/><path d="M198.71 978.13l3.65 7.4h-7.3z"/><path d="M196.25 953.62l3.65 7.4h-7.3z"/><path d="M209.17 990.17l3.65 7.4h-7.3z"/><path d="M196.18 993.4l3.65 7.4h-7.3z"/><path d="M193.09 985.49l3.65 7.4h-7.3z"/><path d="M183.03 993.36l3.65 7.4h-7.3z"/></g>
<g><path d="M295.04 990.56l3.65 7.4h-7.3z"/><path d="M284.38 984.88l3.65 7.4h-7.3z"/><path d="M279.75 961.12l3.65 7.4h-7.3z"/><path d="M302.14 990.44l3.65 7.4h-7.3z"/><path d="M270.43 990.35l3.65 7.4h-7.3z"/><path d="M279.13 931.62l3.65 7.4h-7.3z"/><path d="M279.13 942.35l3.65 7.4h-7.3z"/><path d="M280 982.75l3.65 7.4h-7.3z"/><path d="M272.22 993.3l3.65 7.4h-7.3z"/><path d="M283.12 979.88l3.65 7.4h-7.3z"/><path d="M279.13 651.67l3.65 7.4h-7.3z"/><path d="M279.13 823.88l3.65 7.4h-7.3z"/><path d="M278.12 979.88l3.65 7.4h-7.3z"/><path d="M298.93 990.37l3.65 7.4h-7.3z"/><path d="M262.87 990.33l3.65 7.4h-7.3z"/><path d="M258.95 993.13l3.65 7.4h-7.3z"/><path d="M279.12 968l3.65 7.4h-7.3z"/><path d="M282.2 993.35l3.65 7.4h-7.3z"/><path d="M289.33 993.42l3.65 7.4h-7.3z"/><path d="M287.5 982.38l3.65 7.4h-7.3z"/><path d="M256.05 990.44l3.65 7.4h-7.3z"/><path d="M255.91 993.02l3.65 7.4h-7.3z"/><path d="M302.68 993.36l3.65 7.4h-7.3z"/><path d="M279.13 949.77l3.65 7.4h-7.3z"/><path d="M269.05 993.02l3.65 7.4h-7.3z"/><path d="M279.12 957.38l3.65 7.4h-7.3z"/><path d="M284.16 990.17l3.65 7.4h-7.3z"/><path d="M288.17 990.22l3.65 7.4h-7.3z"/><path d="M292.29 993.09l3.65 7.4h-7.3z"/><path d="M275.39 993.12l3.65 7.4h-7.3z"/><path d="M279.12 971.75l3.65 7.4h-7.3z"/><path d="M286 993l3.65 7.4h-7.3z"/><path d="M296.11 993.2l3.65 7.4h-7.3z"/><path d="M259.41 990.58l3.65 7.4h-7.3z"/><path d="M276.25 975.5l3.65 7.4h-7.3z"/><path d="M279.13 927.5l3.65 7.4h-7.3z"/><path d="M291.54 990.13l3.65 7.4h-7.3z"/><path d="M266.1 993.05l3.65 7.4h-7.3z"/><path d="M273.89 990.03l3.65 7.4h-7.3z"/><path d="M279.13 899.45l3.65 7.4h-7.3z"/><path d="M277.09 990.17l3.65 7.4h-7.3z"/><path d="M279.13 913.97l3.65 7.4h-7.3z"/><path d="M275.62 984.88l3.65 7.4h-7.3z"/><path d="M281.88 975.5l3.65 7.4h-7.3z"/><path d="M298.75 993.06l3.65 7.4h-7.3z"/><path d="M280.56 990.14l3.65 7.4h-7.3z"/><path d="M266.82 990.37l3.65 7.4h-7.3z"/><path d="M272.5 982.38l3.65 7.4h-7.3z"/><path d="M262.65 993.41l3.65 7.4h-7.3z"/><path d="M279.22 993.33l3.65 7.4h-7.3z"/><path d="M279.12 964.88l3.65 7.4h-7.3z"/></g>
<g><path d="M371.44 990.03l3.65 7.4h-7.3z"/><path d="M374.87 990.22l3.65 7.4h-7.3z"/><path d="M362.25 957.38l3.65 7.4h-7.3z"/><path d="M342.85 990.31l3.65 7.4h-7.3z"/><path d="M382.34 990.33l3.65 7.4h-7.3z"/><path d="M349.77 990.56l3.65 7.4h-7.3z"/><path d="M345.8 990.51l3.65 7.4h-7.3z"/><path d="M363.12 985.25l3.65 7.4h-7.3z"/><path d="M345.74 993.48l3.65 7.4h-7.3z"/><path d="M364.38 980.5l3.65 7.4h-7.3z"/><path d="M364.07 990.42l3.65 7.4h-7.3z"/><path d="M360.62 978l3.65 7.4h-7.3z"/><path d="M375.78 993.36l3.65 7.4h-7.3z"/><path d="M339.22 990.18l3.65 7.4h-7.3z"/><path d="M356.25 982.38l3.65 7.4h-7.3z"/><path d="M348.9 993.3l3.65 7.4h-7.3z"/><path d="M360 983.62l3.65 7.4h-7.3z"/><path d="M353.43 990.06l3.65 7.4h-7.3z"/><path d="M367.5 984.25l3.65 7.4h-7.3z"/><path d="M358.12 985.5l3.65 7.4h-7.3z"/><path d="M358.96 993.45l3.65 7.4h-7.3z"/><path d="M364.38 974.88l3.65 7.4h-7.3z"/><path d="M385.2 993.57l3.65 7.4h-7.3z"/><path d="M382.12 993.03l3.65 7.4h-7.3z"/><path d="M367.36 990.51l3.65 7.4h-7.3z"/><path d="M362.2 993.11l3.65 7.4h-7.3z"/><path d="M362.12 938.72l3.65 7.4h-7.3z"/><path d="M362.12 694.57l3.65 7.4h-7.3z"/><path d="M362.12 944l3.65 7.4h-7.3z"/><path d="M362.12 859.85l3.65 7.4h-7.3z"/><path d="M338.58 993.42l3.65 7.4h-7.3z"/><path d="M372.25 993.3l3.65 7.4h-7.3z"/><path d="M378.13 990.36l3.65 7.4h-7.3z"/><path d="M362.25 953.62l3.65 7.4h-7.3z"/><path d="M341.99 993.28l3.65 7.4h-7.3z"/><path d="M362.25 969.25l3.65 7.4h-7.3z"/><path d="M360.78 990.2l3.65 7.4h-7.3z"/><path d="M362.25 964.88l3.65 7.4h-7.3z"/><path d="M351.88 993.26l3.65 7.4h-7.3z"/><path d="M362.12 947.3l3.65 7.4h-7.3z"/><path d="M356.97 990.47l3.65 7.4h-7.3z"/><path d="M365.86 993.49l3.65 7.4h-7.3z"/><path d="M378.9 993.35l3.65 7.4h-7.3z"/><path d="M362.12 903.08l3.65 7.4h-7.3z"/><path d="M368.81 993.06l3.65 7.4h-7.3z"/><path d="M355.49 993.51l3.65 7.4h-7.3z"/><path d="M385.24 990.3l3.65 7.4h-7.3z"/></g>
<g><path d="M444.95 942.35l3.65 7.4h-7.3z"/><path d="M448.42 874.37l3.65 7.4h-7.3z"/><path d="M448.5 968l3.65 7.4h-7.3z"/><path d="M458.65 942.35l3.65 7.4h-7.3z"/><path d="M444.95 816.95l3.65 7.4h-7.3z"/><path d="M441.32 859.85l3.65 7.4h-7.3z"/><path d="M441.25 993l3.65 7.4h-7.3z"/><path d="M441.25 961.12l3.65 7.4h-7.3z"/><path d="M448.42 838.73l3.65 7.4h-7.3z"/><path d="M455.62 961.12l3.65 7.4h-7.3z"/><path d="M441.25 971.75l3.65 7.4h-7.3z"/><path d="M438.02 942.35l3.65 7.4h-7.3z"/><path d="M462.5 971.75l3.65 7.4h-7.3z"/><path d="M434.23 910.17l3.65 7.4h-7.3z"/><path d="M444.95 755.95l3.65 7.4h-7.3z"/><path d="M421.25 956.75l3.65 7.4h-7.3z"/><path d="M448.42 917.6l3.65 7.4h-7.3z"/><path d="M441.32 870.9l3.65 7.4h-7.3z"/><path d="M444.95 744.89l3.65 7.4h-7.3z"/><path d="M444.95 770.31l3.65 7.4h-7.3z"/><path d="M448.5 989.5l3.65 7.4h-7.3z"/><path d="M438.02 831.3l3.65 7.4h-7.3z"/><path d="M451.72 938.72l3.65 7.4h-7.3z"/><path d="M444.95 691.11l3.65 7.4h-7.3z"/><path d="M455.62 985.5l3.65 7.4h-7.3z"/><path d="M462.5 985.5l3.65 7.4h-7.3z"/><path d="M441.32 913.97l3.65 7.4h-7.3z"/><path d="M455.35 913.97l3.65 7.4h-7.3z"/><path d="M428.12 956.75l3.65 7.4h-7.3z"/><path d="M441.32 838.73l3.65 7.4h-7.3z"/><path d="M427.75 974.88l3.65 7.4h-7.3z"/><path d="M455.62 978.62l3.65 7.4h-7.3z"/><path d="M444.95 892.36l3.65 7.4h-7.3z"/><path d="M434.75 956.75l3.65 7.4h-7.3z"/><path d="M444.95 831.3l3.65 7.4h-7.3z"/><path d="M441.32 781.03l3.65 7.4h-7.3z"/><path d="M444.95 655.3l3.65 7.4h-7.3z"/><path d="M448.5 961.12l3.65 7.4h-7.3z"/><path d="M441.25 985.5l3.65 7.4h-7.3z"/><path d="M448.5 978.62l3.65 7.4h-7.3z"/><path d="M444.95 669.65l3.65 7.4h-7.3z"/><path d="M444.95 881.63l3.65 7.4h-7.3z"/><path d="M448.42 856.55l3.65 7.4h-7.3z"/><path d="M444.95 928.82l3.65 7.4h-7.3z"/><path d="M452.05 831.3l3.65 7.4h-7.3z"/><path d="M448.42 784.5l3.65 7.4h-7.3z"/><path d="M427.75 982.38l3.65 7.4h-7.3z"/><path d="M469.38 956.75l3.65 7.4h-7.3z"/><path d="M462.5 956.75l3.65 7.4h-7.3z"/><path d="M430.6 942.35l3.65 7.4h-7.3z"/></g>
</g>
<g stroke="#231f20" fill="none">
<line x1="168.75" y1="993.3" x2="223.75" y2="993.3" stroke-width="3.4"/>
<line x1="251.6" y1="993.3" x2="306.6" y2="993.3" stroke-width="3.4"/>
<line x1="334.75" y1="993.5" x2="389.75" y2="993.5" stroke-width="3.4"/>
<line x1="445.25" y1="915.6" x2="445.25" y2="955" stroke-width="1.75"/>
<line x1="431.5" y1="915.6" x2="459" y2="915.6" stroke-width="1.75"/>
<line x1="431.5" y1="955" x2="459" y2="955" stroke-width="1.75"/>
<line x1="417.75" y1="938.4" x2="472.75" y2="938.4" stroke-width="3.4"/>
</g>
</g>
<g id="B2">
<g stroke="#231f20" fill="none">
<line x1="627.4" y1="1000.6" x2="986.25" y2="1000.6" stroke-width="3.3"/>
<line x1="641.7" y1="656.25" x2="641.7" y2="1002.25" stroke-width="3.3"/>
<line x1="627.4" y1="657.9" x2="641.7" y2="657.9" stroke-width="3.3"/>
<line x1="627.4" y1="772.1" x2="641.7" y2="772.1" stroke-width="3.3"/>
<line x1="627.4" y1="886.4" x2="641.7" y2="886.4" stroke-width="3.3"/>
<line x1="694.1" y1="1000.6" x2="694.1" y2="1015" stroke-width="3.3"/>
<line x1="773.1" y1="1000.6" x2="773.1" y2="1015" stroke-width="3.3"/>
<line x1="852.5" y1="1000.6" x2="852.5" y2="1015" stroke-width="3.3"/>
<line x1="931.6" y1="1000.6" x2="931.6" y2="1015" stroke-width="3.3"/>
<line x1="640.65" y1="954.4" x2="980.6" y2="954.4" stroke-width="2.05" stroke-dasharray="6 3" stroke-dashoffset="0.6"/>
</g>
<g fill="#231f20" stroke="#231f20" stroke-width="0.5" stroke-linejoin="round" font-family="'Liberation Sans', sans-serif" font-weight="700">
<text transform="translate(624 667.28) scale(1 1.02)" font-size="25.8" text-anchor="end">60</text>
<text transform="translate(624 781.48) scale(1 1.02)" font-size="25.8" text-anchor="end">40</text>
<text transform="translate(624 895.78) scale(1 1.02)" font-size="25.8" text-anchor="end">20</text>
<text transform="translate(624 1009.98) scale(1 1.02)" font-size="25.8" text-anchor="end">0</text>
<text transform="translate(694.1 1043.1) scale(1 1.02)" font-size="25.8" text-anchor="middle">0d</text>
<text transform="translate(773.1 1043.1) scale(1 1.02)" font-size="25.8" text-anchor="middle">3wk</text>
<text transform="translate(852.5 1043.1) scale(1 1.02)" font-size="25.8" text-anchor="middle">6wk</text>
<text transform="translate(931.6 1043.1) scale(1 1.02)" font-size="25.8" text-anchor="middle">Conv</text>
<text transform="translate(814.7 594) scale(1 1.05)" font-size="28" text-anchor="middle">anti-N IgA</text>
<text transform="translate(577 828.5) rotate(-90) scale(1 1.04)" font-size="27.44" text-anchor="middle">EIA Units</text>
</g>
<g id="B2-pts" fill="#97999c" stroke="#231f20" stroke-width="0.98" stroke-linejoin="miter">
<g><path d="M672.38 985.25l3.35 6.95h-6.7z"/><path d="M702.2 990.75l3.35 6.95h-6.7z"/><path d="M680.5 990.66l3.35 6.95h-6.7z"/><path d="M683.32 990.79l3.35 6.95h-6.7z"/><path d="M683.1 985.25l3.35 6.95h-6.7z"/><path d="M694.15 928.32l3.35 6.95h-6.7z"/><path d="M694.15 957.2l3.35 6.95h-6.7z"/><path d="M705.14 990.81l3.35 6.95h-6.7z"/><path d="M674.32 990.83l3.35 6.95h-6.7z"/><path d="M694.15 974.53l3.35 6.95h-6.7z"/><path d="M696.51 990.6l3.35 6.95h-6.7z"/><path d="M694.15 979.97l3.35 6.95h-6.7z"/><path d="M694.49 990.84l3.35 6.95h-6.7z"/><path d="M694.15 791.17l3.35 6.95h-6.7z"/><path d="M676.17 985.25l3.35 6.95h-6.7z"/><path d="M671.59 990.7l3.35 6.95h-6.7z"/><path d="M703.73 985.25l3.35 6.95h-6.7z"/><path d="M688.59 990.64l3.35 6.95h-6.7z"/><path d="M685.78 990.75l3.35 6.95h-6.7z"/><path d="M693 985.25l3.35 6.95h-6.7z"/><path d="M691.71 990.66l3.35 6.95h-6.7z"/><path d="M713.13 985.25l3.35 6.95h-6.7z"/><path d="M694.15 962.97l3.35 6.95h-6.7z"/><path d="M709.5 985.25l3.35 6.95h-6.7z"/><path d="M699.6 985.25l3.35 6.95h-6.7z"/><path d="M694.15 945.32l3.35 6.95h-6.7z"/><path d="M710.58 990.8l3.35 6.95h-6.7z"/><path d="M713.56 990.83l3.35 6.95h-6.7z"/><path d="M708.38 990.8l3.35 6.95h-6.7z"/><path d="M688.88 985.25l3.35 6.95h-6.7z"/><path d="M677.16 990.72l3.35 6.95h-6.7z"/><path d="M694.15 899.78l3.35 6.95h-6.7z"/><path d="M699.66 990.83l3.35 6.95h-6.7z"/><path d="M679.8 985.25l3.35 6.95h-6.7z"/><path d="M716.38 990.86l3.35 6.95h-6.7z"/><path d="M694.15 968.75l3.35 6.95h-6.7z"/></g>
<g><path d="M756.73 990.66l3.35 6.95h-6.7z"/><path d="M784.57 990.88l3.35 6.95h-6.7z"/><path d="M764.48 990.64l3.35 6.95h-6.7z"/><path d="M766.42 985.25l3.35 6.95h-6.7z"/><path d="M788.7 985.25l3.35 6.95h-6.7z"/><path d="M773.36 968.75l3.35 6.95h-6.7z"/><path d="M790.13 990.72l3.35 6.95h-6.7z"/><path d="M773.36 894.17l3.35 6.95h-6.7z"/><path d="M770.22 990.5l3.35 6.95h-6.7z"/><path d="M773.36 974.53l3.35 6.95h-6.7z"/><path d="M759 985.25l3.35 6.95h-6.7z"/><path d="M759.5 990.56l3.35 6.95h-6.7z"/><path d="M792 985.25l3.35 6.95h-6.7z"/><path d="M773.36 980.3l3.35 6.95h-6.7z"/><path d="M751.58 985.25l3.35 6.95h-6.7z"/><path d="M767.63 990.51l3.35 6.95h-6.7z"/><path d="M773.36 922.55l3.35 6.95h-6.7z"/><path d="M781.75 990.86l3.35 6.95h-6.7z"/><path d="M773.36 928.32l3.35 6.95h-6.7z"/><path d="M795.42 990.57l3.35 6.95h-6.7z"/><path d="M773.36 939.88l3.35 6.95h-6.7z"/><path d="M775.5 985.25l3.35 6.95h-6.7z"/><path d="M779.13 985.25l3.35 6.95h-6.7z"/><path d="M782.92 985.25l3.35 6.95h-6.7z"/><path d="M762.35 990.67l3.35 6.95h-6.7z"/><path d="M792.33 990.71l3.35 6.95h-6.7z"/><path d="M775.67 990.61l3.35 6.95h-6.7z"/><path d="M778.9 990.67l3.35 6.95h-6.7z"/><path d="M773.36 962.97l3.35 6.95h-6.7z"/><path d="M773.36 722.53l3.35 6.95h-6.7z"/><path d="M751.18 990.52l3.35 6.95h-6.7z"/><path d="M787.1 990.77l3.35 6.95h-6.7z"/><path d="M772.76 990.57l3.35 6.95h-6.7z"/><path d="M755.37 985.25l3.35 6.95h-6.7z"/><path d="M753.77 990.69l3.35 6.95h-6.7z"/><path d="M773.36 957.2l3.35 6.95h-6.7z"/></g>
<g><path d="M871.96 990.6l3.35 6.95h-6.7z"/><path d="M852.39 990.68l3.35 6.95h-6.7z"/><path d="M858 985.25l3.35 6.95h-6.7z"/><path d="M836.12 990.71l3.35 6.95h-6.7z"/><path d="M838.75 990.79l3.35 6.95h-6.7z"/><path d="M834.57 985.25l3.35 6.95h-6.7z"/><path d="M858.08 990.76l3.35 6.95h-6.7z"/><path d="M852.39 968.42l3.35 6.95h-6.7z"/><path d="M869.37 990.67l3.35 6.95h-6.7z"/><path d="M872.02 985.25l3.35 6.95h-6.7z"/><path d="M849.91 990.57l3.35 6.95h-6.7z"/><path d="M875.02 990.8l3.35 6.95h-6.7z"/><path d="M852.39 974.53l3.35 6.95h-6.7z"/><path d="M852.39 779.45l3.35 6.95h-6.7z"/><path d="M843.87 990.9l3.35 6.95h-6.7z"/><path d="M830.77 985.25l3.35 6.95h-6.7z"/><path d="M838.2 985.25l3.35 6.95h-6.7z"/><path d="M830.29 990.86l3.35 6.95h-6.7z"/><path d="M854.7 985.25l3.35 6.95h-6.7z"/><path d="M868.73 985.25l3.35 6.95h-6.7z"/><path d="M847.12 990.6l3.35 6.95h-6.7z"/><path d="M852.39 945.65l3.35 6.95h-6.7z"/><path d="M841.64 990.51l3.35 6.95h-6.7z"/><path d="M852.39 899.45l3.35 6.95h-6.7z"/><path d="M852.39 905.72l3.35 6.95h-6.7z"/><path d="M852.39 962.48l3.35 6.95h-6.7z"/><path d="M852.39 980.3l3.35 6.95h-6.7z"/><path d="M855.07 990.56l3.35 6.95h-6.7z"/><path d="M832.95 990.78l3.35 6.95h-6.7z"/><path d="M845.62 985.25l3.35 6.95h-6.7z"/><path d="M864.04 990.52l3.35 6.95h-6.7z"/><path d="M861.63 985.25l3.35 6.95h-6.7z"/><path d="M866.26 990.54l3.35 6.95h-6.7z"/><path d="M860.72 990.76l3.35 6.95h-6.7z"/></g>
<g><path d="M924.48 990.9l3.35 6.95h-6.7z"/><path d="M935.56 986.07l3.35 6.95h-6.7z"/><path d="M930.6 962.97l3.35 6.95h-6.7z"/><path d="M931.59 922.55l3.35 6.95h-6.7z"/><path d="M933.4 957.53l3.35 6.95h-6.7z"/><path d="M927.78 986.07l3.35 6.95h-6.7z"/><path d="M943.35 986.07l3.35 6.95h-6.7z"/><path d="M911.35 990.69l3.35 6.95h-6.7z"/><path d="M955.02 986.07l3.35 6.95h-6.7z"/><path d="M930.6 950.6l3.35 6.95h-6.7z"/><path d="M932.25 973.7l3.35 6.95h-6.7z"/><path d="M930.6 977.82l3.35 6.95h-6.7z"/><path d="M922.43 990.79l3.35 6.95h-6.7z"/><path d="M951.13 986.07l3.35 6.95h-6.7z"/><path d="M933.3 990.61l3.35 6.95h-6.7z"/><path d="M939.46 986.07l3.35 6.95h-6.7z"/><path d="M947.24 986.07l3.35 6.95h-6.7z"/><path d="M948.8 990.86l3.35 6.95h-6.7z"/><path d="M932.25 968.75l3.35 6.95h-6.7z"/><path d="M928.95 981.13l3.35 6.95h-6.7z"/><path d="M920 986.07l3.35 6.95h-6.7z"/><path d="M930.28 990.71l3.35 6.95h-6.7z"/><path d="M931.59 836.75l3.35 6.95h-6.7z"/><path d="M931.67 986.07l3.35 6.95h-6.7z"/><path d="M946.29 990.59l3.35 6.95h-6.7z"/><path d="M941.02 990.86l3.35 6.95h-6.7z"/><path d="M916.67 990.73l3.35 6.95h-6.7z"/><path d="M954.39 990.89l3.35 6.95h-6.7z"/><path d="M912.22 986.07l3.35 6.95h-6.7z"/><path d="M934.23 981.13l3.35 6.95h-6.7z"/><path d="M914.38 990.65l3.35 6.95h-6.7z"/><path d="M935.37 990.9l3.35 6.95h-6.7z"/><path d="M927.58 990.74l3.35 6.95h-6.7z"/><path d="M932.25 894.17l3.35 6.95h-6.7z"/><path d="M938.17 990.61l3.35 6.95h-6.7z"/><path d="M923.89 986.07l3.35 6.95h-6.7z"/><path d="M952.08 990.55l3.35 6.95h-6.7z"/><path d="M908.33 986.07l3.35 6.95h-6.7z"/><path d="M943.68 990.51l3.35 6.95h-6.7z"/><path d="M908.93 990.55l3.35 6.95h-6.7z"/><path d="M919.33 990.86l3.35 6.95h-6.7z"/><path d="M916.11 986.07l3.35 6.95h-6.7z"/></g>
</g>
<g stroke="#231f20" fill="none">
<line x1="667.6" y1="993.75" x2="720.6" y2="993.75" stroke-width="3.4"/>
<line x1="746.6" y1="993.75" x2="799.6" y2="993.75" stroke-width="3.4"/>
<line x1="826" y1="993.75" x2="879" y2="993.75" stroke-width="3.4"/>
<line x1="931.6" y1="983.5" x2="931.6" y2="992.5" stroke-width="1.75"/>
<line x1="918.35" y1="983.5" x2="944.85" y2="983.5" stroke-width="1.75"/>
<line x1="918.35" y1="992.5" x2="944.85" y2="992.5" stroke-width="1.75"/>
<line x1="905.1" y1="988.1" x2="958.1" y2="988.1" stroke-width="3.4"/>
</g>
</g>
<g id="B3">
<g stroke="#231f20" fill="none">
<line x1="1123.7" y1="1000.6" x2="1500.1" y2="1000.6" stroke-width="3.4"/>
<line x1="1138.6" y1="639.3" x2="1138.6" y2="1002.3" stroke-width="3.4"/>
<line x1="1123.7" y1="641" x2="1138.6" y2="641" stroke-width="3.4"/>
<line x1="1123.7" y1="760.9" x2="1138.6" y2="760.9" stroke-width="3.4"/>
<line x1="1123.7" y1="880.7" x2="1138.6" y2="880.7" stroke-width="3.4"/>
<line x1="1193.9" y1="1000.6" x2="1193.9" y2="1015.6" stroke-width="3.4"/>
<line x1="1276.6" y1="1000.6" x2="1276.6" y2="1015.6" stroke-width="3.4"/>
<line x1="1359.6" y1="1000.6" x2="1359.6" y2="1015.6" stroke-width="3.4"/>
<line x1="1442.9" y1="1000.6" x2="1442.9" y2="1015.6" stroke-width="3.4"/>
<line x1="1137.5" y1="929.6" x2="1493.75" y2="929.6" stroke-width="2.05" stroke-dasharray="6 3" stroke-dashoffset="0.6"/>
</g>
<g fill="#231f20" stroke="#231f20" stroke-width="0.5" stroke-linejoin="round" font-family="'Liberation Sans', sans-serif" font-weight="700">
<text transform="translate(1119.6 650.8) scale(1 1.02)" font-size="27" text-anchor="end">150</text>
<text transform="translate(1119.6 770.7) scale(1 1.02)" font-size="27" text-anchor="end">100</text>
<text transform="translate(1119.6 890.5) scale(1 1.02)" font-size="27" text-anchor="end">50</text>
<text transform="translate(1119.6 1010.4) scale(1 1.02)" font-size="27" text-anchor="end">0</text>
<text transform="translate(1193.9 1044.6) scale(1 1.02)" font-size="27" text-anchor="middle">0d</text>
<text transform="translate(1276.6 1044.6) scale(1 1.02)" font-size="27" text-anchor="middle">3wk</text>
<text transform="translate(1359.6 1044.6) scale(1 1.02)" font-size="27" text-anchor="middle">6wk</text>
<text transform="translate(1442.9 1044.6) scale(1 1.02)" font-size="27" text-anchor="middle">Conv</text>
<text transform="translate(1319.3 594) scale(1 1.05)" font-size="29.7" text-anchor="middle">anti-N IgM</text>
<text transform="translate(1056 820.5) rotate(-90) scale(1 1.04)" font-size="29.11" text-anchor="middle">EIA Units</text>
</g>
<g id="B3-pts" fill="#97999c" stroke="#231f20" stroke-width="1" stroke-linejoin="miter">
<g><path d="M1198.59 967.41l3.65 7.4h-7.3z"/><path d="M1181.92 990.12l3.65 7.4h-7.3z"/><path d="M1193.54 981.22l3.65 7.4h-7.3z"/><path d="M1193.99 954.86l3.65 7.4h-7.3z"/><path d="M1187.09 993.3l3.65 7.4h-7.3z"/><path d="M1194.17 961.41l3.65 7.4h-7.3z"/><path d="M1213.79 993.12l3.65 7.4h-7.3z"/><path d="M1193.83 938.75l3.65 7.4h-7.3z"/><path d="M1216.56 987.17l3.65 7.4h-7.3z"/><path d="M1185.48 990.08l3.65 7.4h-7.3z"/><path d="M1185.98 978.86l3.65 7.4h-7.3z"/><path d="M1199.27 989.99l3.65 7.4h-7.3z"/><path d="M1187.21 987.16l3.65 7.4h-7.3z"/><path d="M1196.28 965.3l3.65 7.4h-7.3z"/><path d="M1196.03 978.59l3.65 7.4h-7.3z"/><path d="M1188.47 989.88l3.65 7.4h-7.3z"/><path d="M1200.64 993.44l3.65 7.4h-7.3z"/><path d="M1202.83 990.36l3.65 7.4h-7.3z"/><path d="M1193.83 874.73l3.65 7.4h-7.3z"/><path d="M1196.31 957.69l3.65 7.4h-7.3z"/><path d="M1213.52 987.17l3.65 7.4h-7.3z"/><path d="M1171.19 989.83l3.65 7.4h-7.3z"/><path d="M1195.75 990.39l3.65 7.4h-7.3z"/><path d="M1199.01 960.73l3.65 7.4h-7.3z"/><path d="M1193.83 921.92l3.65 7.4h-7.3z"/><path d="M1209.92 987.01l3.65 7.4h-7.3z"/><path d="M1202.2 978.18l3.65 7.4h-7.3z"/><path d="M1192.41 990.19l3.65 7.4h-7.3z"/><path d="M1177.7 987.1l3.65 7.4h-7.3z"/><path d="M1199.37 975.03l3.65 7.4h-7.3z"/><path d="M1193.83 864.5l3.65 7.4h-7.3z"/><path d="M1206.58 993.08l3.65 7.4h-7.3z"/><path d="M1184.03 981.92l3.65 7.4h-7.3z"/><path d="M1193.83 951.12l3.65 7.4h-7.3z"/><path d="M1174.48 990.07l3.65 7.4h-7.3z"/><path d="M1184.38 987.07l3.65 7.4h-7.3z"/><path d="M1193.83 773.85l3.65 7.4h-7.3z"/><path d="M1191.02 964.33l3.65 7.4h-7.3z"/><path d="M1190.3 993.17l3.65 7.4h-7.3z"/><path d="M1196.29 970.81l3.65 7.4h-7.3z"/><path d="M1188.24 961.41l3.65 7.4h-7.3z"/><path d="M1193.69 993.28l3.65 7.4h-7.3z"/><path d="M1180.7 986.92l3.65 7.4h-7.3z"/><path d="M1200.68 987.14l3.65 7.4h-7.3z"/><path d="M1193.4 974.68l3.65 7.4h-7.3z"/><path d="M1193.83 900.8l3.65 7.4h-7.3z"/><path d="M1194.98 947l3.65 7.4h-7.3z"/><path d="M1213.2 990.27l3.65 7.4h-7.3z"/><path d="M1190.89 978.05l3.65 7.4h-7.3z"/><path d="M1174.49 987.02l3.65 7.4h-7.3z"/><path d="M1193.87 986.89l3.65 7.4h-7.3z"/><path d="M1216.41 993.38l3.65 7.4h-7.3z"/><path d="M1203.97 981.27l3.65 7.4h-7.3z"/><path d="M1191.06 958.1l3.65 7.4h-7.3z"/><path d="M1171.31 986.86l3.65 7.4h-7.3z"/><path d="M1210.2 993.2l3.65 7.4h-7.3z"/><path d="M1197.5 993.35l3.65 7.4h-7.3z"/><path d="M1192.01 971.32l3.65 7.4h-7.3z"/><path d="M1206.75 987.07l3.65 7.4h-7.3z"/><path d="M1203.68 987.12l3.65 7.4h-7.3z"/><path d="M1185.43 971.26l3.65 7.4h-7.3z"/><path d="M1216.69 989.96l3.65 7.4h-7.3z"/><path d="M1193 943.7l3.65 7.4h-7.3z"/><path d="M1188.69 974.72l3.65 7.4h-7.3z"/><path d="M1197.37 986.83l3.65 7.4h-7.3z"/><path d="M1183.85 993.22l3.65 7.4h-7.3z"/><path d="M1193.83 888.92l3.65 7.4h-7.3z"/><path d="M1193.83 934.13l3.65 7.4h-7.3z"/><path d="M1189.07 968.2l3.65 7.4h-7.3z"/><path d="M1174.07 993.54l3.65 7.4h-7.3z"/><path d="M1201.88 971.59l3.65 7.4h-7.3z"/><path d="M1209.62 989.87l3.65 7.4h-7.3z"/><path d="M1178.37 990.27l3.65 7.4h-7.3z"/><path d="M1180.54 993.36l3.65 7.4h-7.3z"/><path d="M1190.86 986.85l3.65 7.4h-7.3z"/><path d="M1188.26 981.78l3.65 7.4h-7.3z"/><path d="M1199.2 981.5l3.65 7.4h-7.3z"/><path d="M1194.21 967.69l3.65 7.4h-7.3z"/><path d="M1170.79 993.24l3.65 7.4h-7.3z"/><path d="M1205.92 990.37l3.65 7.4h-7.3z"/><path d="M1193.83 768.73l3.65 7.4h-7.3z"/><path d="M1203.7 993.04l3.65 7.4h-7.3z"/><path d="M1177.98 993.35l3.65 7.4h-7.3z"/></g>
<g><path d="M1299.11 987.1l3.65 7.4h-7.3z"/><path d="M1278.35 990l3.65 7.4h-7.3z"/><path d="M1276.33 948.65l3.65 7.4h-7.3z"/><path d="M1289.25 993.41l3.65 7.4h-7.3z"/><path d="M1271.13 971.1l3.65 7.4h-7.3z"/><path d="M1277.48 888.42l3.65 7.4h-7.3z"/><path d="M1266.48 993.56l3.65 7.4h-7.3z"/><path d="M1276.82 879.35l3.65 7.4h-7.3z"/><path d="M1254.19 993.59l3.65 7.4h-7.3z"/><path d="M1282.9 987.19l3.65 7.4h-7.3z"/><path d="M1270.42 993.15l3.65 7.4h-7.3z"/><path d="M1276.25 986.9l3.65 7.4h-7.3z"/><path d="M1276.33 930.5l3.65 7.4h-7.3z"/><path d="M1261.19 990.11l3.65 7.4h-7.3z"/><path d="M1253.98 990.17l3.65 7.4h-7.3z"/><path d="M1260.67 993.34l3.65 7.4h-7.3z"/><path d="M1292.55 993.17l3.65 7.4h-7.3z"/><path d="M1273.62 981.57l3.65 7.4h-7.3z"/><path d="M1277.23 971.06l3.65 7.4h-7.3z"/><path d="M1267.71 990.11l3.65 7.4h-7.3z"/><path d="M1276.82 926.38l3.65 7.4h-7.3z"/><path d="M1257.1 987.13l3.65 7.4h-7.3z"/><path d="M1263.84 993.24l3.65 7.4h-7.3z"/><path d="M1268.35 975.05l3.65 7.4h-7.3z"/><path d="M1274.12 974.04l3.65 7.4h-7.3z"/><path d="M1276.33 891.73l3.65 7.4h-7.3z"/><path d="M1276.82 852.62l3.65 7.4h-7.3z"/><path d="M1284.98 990.23l3.65 7.4h-7.3z"/><path d="M1281.83 990.11l3.65 7.4h-7.3z"/><path d="M1276.57 964.55l3.65 7.4h-7.3z"/><path d="M1263.86 987.33l3.65 7.4h-7.3z"/><path d="M1276.46 978.42l3.65 7.4h-7.3z"/><path d="M1253.68 987.16l3.65 7.4h-7.3z"/><path d="M1274.99 990.12l3.65 7.4h-7.3z"/><path d="M1296.01 987.27l3.65 7.4h-7.3z"/><path d="M1276.82 937.1l3.65 7.4h-7.3z"/><path d="M1292.09 990.23l3.65 7.4h-7.3z"/><path d="M1279.98 987.05l3.65 7.4h-7.3z"/><path d="M1283.04 993.47l3.65 7.4h-7.3z"/><path d="M1284.63 981.19l3.65 7.4h-7.3z"/><path d="M1276.82 727.98l3.65 7.4h-7.3z"/><path d="M1278.65 974.54l3.65 7.4h-7.3z"/><path d="M1272.08 964.07l3.65 7.4h-7.3z"/><path d="M1289.48 987.35l3.65 7.4h-7.3z"/><path d="M1266.98 987.26l3.65 7.4h-7.3z"/><path d="M1270.29 987.25l3.65 7.4h-7.3z"/><path d="M1276.15 958.38l3.65 7.4h-7.3z"/><path d="M1299.03 993.48l3.65 7.4h-7.3z"/><path d="M1281.77 977.93l3.65 7.4h-7.3z"/><path d="M1289.08 989.82l3.65 7.4h-7.3z"/><path d="M1269 980.99l3.65 7.4h-7.3z"/><path d="M1279.22 960.65l3.65 7.4h-7.3z"/><path d="M1256.99 990.09l3.65 7.4h-7.3z"/><path d="M1277.48 933.8l3.65 7.4h-7.3z"/><path d="M1292.74 987.38l3.65 7.4h-7.3z"/><path d="M1276.82 912.68l3.65 7.4h-7.3z"/><path d="M1281.7 971.59l3.65 7.4h-7.3z"/><path d="M1273.96 961.68l3.65 7.4h-7.3z"/><path d="M1296.22 993.19l3.65 7.4h-7.3z"/><path d="M1295.77 989.88l3.65 7.4h-7.3z"/><path d="M1271.07 990.32l3.65 7.4h-7.3z"/><path d="M1285.09 975.21l3.65 7.4h-7.3z"/><path d="M1279.42 981.01l3.65 7.4h-7.3z"/><path d="M1257.43 993.56l3.65 7.4h-7.3z"/><path d="M1276.82 899.15l3.65 7.4h-7.3z"/><path d="M1273.24 993.14l3.65 7.4h-7.3z"/><path d="M1279.29 968.09l3.65 7.4h-7.3z"/><path d="M1276.82 895.02l3.65 7.4h-7.3z"/><path d="M1286.36 993.08l3.65 7.4h-7.3z"/><path d="M1264.13 990.36l3.65 7.4h-7.3z"/><path d="M1260.39 987.35l3.65 7.4h-7.3z"/><path d="M1280.11 993.02l3.65 7.4h-7.3z"/><path d="M1276.82 943.7l3.65 7.4h-7.3z"/><path d="M1271.5 978.68l3.65 7.4h-7.3z"/><path d="M1281.59 964.65l3.65 7.4h-7.3z"/><path d="M1299.56 990.39l3.65 7.4h-7.3z"/><path d="M1277.48 954.42l3.65 7.4h-7.3z"/><path d="M1273.6 967.34l3.65 7.4h-7.3z"/><path d="M1273.49 987.26l3.65 7.4h-7.3z"/><path d="M1286.13 987.25l3.65 7.4h-7.3z"/><path d="M1287.03 977.56l3.65 7.4h-7.3z"/><path d="M1276.77 993.1l3.65 7.4h-7.3z"/></g>
<g><path d="M1366.21 986.82l3.65 7.4h-7.3z"/><path d="M1349.77 987.37l3.65 7.4h-7.3z"/><path d="M1367.96 973.88l3.65 7.4h-7.3z"/><path d="M1359.3 993.18l3.65 7.4h-7.3z"/><path d="M1382.62 993.35l3.65 7.4h-7.3z"/><path d="M1378.81 987.23l3.65 7.4h-7.3z"/><path d="M1362.82 987.1l3.65 7.4h-7.3z"/><path d="M1367.02 981.98l3.65 7.4h-7.3z"/><path d="M1359.53 986.97l3.65 7.4h-7.3z"/><path d="M1356.04 986.95l3.65 7.4h-7.3z"/><path d="M1359.82 687.55l3.65 7.4h-7.3z"/><path d="M1359.71 978.55l3.65 7.4h-7.3z"/><path d="M1376.14 986.93l3.65 7.4h-7.3z"/><path d="M1354.47 990.09l3.65 7.4h-7.3z"/><path d="M1359.82 928.02l3.65 7.4h-7.3z"/><path d="M1359.82 941.23l3.65 7.4h-7.3z"/><path d="M1371.52 990.13l3.65 7.4h-7.3z"/><path d="M1339.97 986.88l3.65 7.4h-7.3z"/><path d="M1349.86 993.18l3.65 7.4h-7.3z"/><path d="M1356.62 974.68l3.65 7.4h-7.3z"/><path d="M1382.33 990.09l3.65 7.4h-7.3z"/><path d="M1364.48 971.37l3.65 7.4h-7.3z"/><path d="M1358.83 958.55l3.65 7.4h-7.3z"/><path d="M1359.31 964.9l3.65 7.4h-7.3z"/><path d="M1375.69 993.35l3.65 7.4h-7.3z"/><path d="M1336.98 987.28l3.65 7.4h-7.3z"/><path d="M1359.82 850.48l3.65 7.4h-7.3z"/><path d="M1378.89 990.02l3.65 7.4h-7.3z"/><path d="M1358.83 948.65l3.65 7.4h-7.3z"/><path d="M1356.28 993.48l3.65 7.4h-7.3z"/><path d="M1359.82 936.27l3.65 7.4h-7.3z"/><path d="M1382.51 986.91l3.65 7.4h-7.3z"/><path d="M1359.82 912.35l3.65 7.4h-7.3z"/><path d="M1361.78 967.13l3.65 7.4h-7.3z"/><path d="M1351.62 981.14l3.65 7.4h-7.3z"/><path d="M1340.25 993.58l3.65 7.4h-7.3z"/><path d="M1379.12 993.13l3.65 7.4h-7.3z"/><path d="M1360.97 953.6l3.65 7.4h-7.3z"/><path d="M1352.75 987.3l3.65 7.4h-7.3z"/><path d="M1352.78 993.52l3.65 7.4h-7.3z"/><path d="M1356.4 982l3.65 7.4h-7.3z"/><path d="M1362.45 981.37l3.65 7.4h-7.3z"/><path d="M1369.29 993.18l3.65 7.4h-7.3z"/><path d="M1360.47 961.85l3.65 7.4h-7.3z"/><path d="M1366.05 993.11l3.65 7.4h-7.3z"/><path d="M1350.78 989.89l3.65 7.4h-7.3z"/><path d="M1359.82 917.3l3.65 7.4h-7.3z"/><path d="M1354.88 971.28l3.65 7.4h-7.3z"/><path d="M1359.82 835.62l3.65 7.4h-7.3z"/><path d="M1359.82 925.22l3.65 7.4h-7.3z"/><path d="M1342.93 987.16l3.65 7.4h-7.3z"/><path d="M1347.72 990.09l3.65 7.4h-7.3z"/><path d="M1375.31 990.27l3.65 7.4h-7.3z"/><path d="M1352.38 975.05l3.65 7.4h-7.3z"/><path d="M1359.82 881.33l3.65 7.4h-7.3z"/><path d="M1336.41 990.12l3.65 7.4h-7.3z"/><path d="M1362.85 993.02l3.65 7.4h-7.3z"/><path d="M1356.42 968.07l3.65 7.4h-7.3z"/><path d="M1365.25 990.05l3.65 7.4h-7.3z"/><path d="M1360.08 971.65l3.65 7.4h-7.3z"/><path d="M1337.06 993.27l3.65 7.4h-7.3z"/><path d="M1359.82 869.78l3.65 7.4h-7.3z"/><path d="M1346.36 987.31l3.65 7.4h-7.3z"/><path d="M1365.4 977.78l3.65 7.4h-7.3z"/><path d="M1372.73 986.98l3.65 7.4h-7.3z"/><path d="M1346.49 993.2l3.65 7.4h-7.3z"/><path d="M1368.71 990.05l3.65 7.4h-7.3z"/><path d="M1342.95 993.22l3.65 7.4h-7.3z"/><path d="M1344.19 990.17l3.65 7.4h-7.3z"/><path d="M1362.39 974.51l3.65 7.4h-7.3z"/><path d="M1361.43 989.85l3.65 7.4h-7.3z"/><path d="M1340.23 989.85l3.65 7.4h-7.3z"/><path d="M1369.46 987.03l3.65 7.4h-7.3z"/><path d="M1354.16 978.58l3.65 7.4h-7.3z"/><path d="M1357.59 990.3l3.65 7.4h-7.3z"/><path d="M1372.85 993.3l3.65 7.4h-7.3z"/></g>
<g><path d="M1447.1 971.75l3.65 7.4h-7.3z"/><path d="M1424.89 993.59l3.65 7.4h-7.3z"/><path d="M1436.74 993.46l3.65 7.4h-7.3z"/><path d="M1440.5 907.73l3.65 7.4h-7.3z"/><path d="M1466.25 992.96l3.65 7.4h-7.3z"/><path d="M1445.12 907.73l3.65 7.4h-7.3z"/><path d="M1442.81 969.77l3.65 7.4h-7.3z"/><path d="M1442.81 948.98l3.65 7.4h-7.3z"/><path d="M1428.38 993.4l3.65 7.4h-7.3z"/><path d="M1454.41 993.41l3.65 7.4h-7.3z"/><path d="M1442.81 980l3.65 7.4h-7.3z"/><path d="M1438.85 944.03l3.65 7.4h-7.3z"/><path d="M1434.34 993.25l3.65 7.4h-7.3z"/><path d="M1444.62 975.05l3.65 7.4h-7.3z"/><path d="M1442.81 886.28l3.65 7.4h-7.3z"/><path d="M1460.3 993.34l3.65 7.4h-7.3z"/><path d="M1434.72 990.73l3.65 7.4h-7.3z"/><path d="M1439.91 993.32l3.65 7.4h-7.3z"/><path d="M1431.39 992.8l3.65 7.4h-7.3z"/><path d="M1444.13 915.65l3.65 7.4h-7.3z"/><path d="M1463.5 992.96l3.65 7.4h-7.3z"/><path d="M1442.81 905.42l3.65 7.4h-7.3z"/><path d="M1440.5 975.05l3.65 7.4h-7.3z"/><path d="M1464.42 989.08l3.65 7.4h-7.3z"/><path d="M1448.46 992.65l3.65 7.4h-7.3z"/><path d="M1438.85 971.75l3.65 7.4h-7.3z"/><path d="M1444.13 955.25l3.65 7.4h-7.3z"/><path d="M1442.81 985.77l3.65 7.4h-7.3z"/><path d="M1446.28 958.55l3.65 7.4h-7.3z"/><path d="M1419.38 993.23l3.65 7.4h-7.3z"/><path d="M1442.81 922.25l3.65 7.4h-7.3z"/><path d="M1445.44 992.66l3.65 7.4h-7.3z"/><path d="M1441.33 914.83l3.65 7.4h-7.3z"/><path d="M1442.81 961.02l3.65 7.4h-7.3z"/><path d="M1442.81 866.98l3.65 7.4h-7.3z"/><path d="M1447.1 944.03l3.65 7.4h-7.3z"/><path d="M1442.57 993.28l3.65 7.4h-7.3z"/><path d="M1440.5 955.25l3.65 7.4h-7.3z"/><path d="M1457.8 993l3.65 7.4h-7.3z"/><path d="M1451.78 992.82l3.65 7.4h-7.3z"/><path d="M1441.33 944.03l3.65 7.4h-7.3z"/><path d="M1442.81 929.67l3.65 7.4h-7.3z"/><path d="M1424 990.23l3.65 7.4h-7.3z"/><path d="M1444.13 944.03l3.65 7.4h-7.3z"/><path d="M1442.81 864.5l3.65 7.4h-7.3z"/><path d="M1442.81 895.85l3.65 7.4h-7.3z"/><path d="M1442.81 932.15l3.65 7.4h-7.3z"/><path d="M1422.26 993.52l3.65 7.4h-7.3z"/><path d="M1455.35 990.73l3.65 7.4h-7.3z"/></g>
</g>
<g stroke="#231f20" fill="none">
<line x1="1193.9" y1="988" x2="1193.9" y2="992.5" stroke-width="1.75"/>
<line x1="1180.15" y1="988" x2="1207.65" y2="988" stroke-width="1.75"/>
<line x1="1180.15" y1="992.5" x2="1207.65" y2="992.5" stroke-width="1.75"/>
<line x1="1166.4" y1="990.25" x2="1221.4" y2="990.25" stroke-width="3.4"/>
<line x1="1276.6" y1="988" x2="1276.6" y2="992.5" stroke-width="1.75"/>
<line x1="1262.85" y1="988" x2="1290.35" y2="988" stroke-width="1.75"/>
<line x1="1262.85" y1="992.5" x2="1290.35" y2="992.5" stroke-width="1.75"/>
<line x1="1249.1" y1="990.4" x2="1304.1" y2="990.4" stroke-width="3.4"/>
<line x1="1359.6" y1="988" x2="1359.6" y2="992.5" stroke-width="1.75"/>
<line x1="1345.85" y1="988" x2="1373.35" y2="988" stroke-width="1.75"/>
<line x1="1345.85" y1="992.5" x2="1373.35" y2="992.5" stroke-width="1.75"/>
<line x1="1332.1" y1="990.4" x2="1387.1" y2="990.4" stroke-width="3.4"/>
<line x1="1442.9" y1="977.25" x2="1442.9" y2="990.9" stroke-width="1.75"/>
<line x1="1429.15" y1="977.25" x2="1456.65" y2="977.25" stroke-width="1.75"/>
<line x1="1429.15" y1="990.9" x2="1456.65" y2="990.9" stroke-width="1.75"/>
<line x1="1415.4" y1="985.6" x2="1470.4" y2="985.6" stroke-width="3.4"/>
</g>
</g>
<g id="B4">
<g stroke="#231f20" fill="none">
<line x1="1623.8" y1="1000.6" x2="2000.2" y2="1000.6" stroke-width="3.4"/>
<line x1="1638.7" y1="639.3" x2="1638.7" y2="1002.3" stroke-width="3.4"/>
<line x1="1623.8" y1="641" x2="1638.7" y2="641" stroke-width="3.4"/>
<line x1="1623.8" y1="820.8" x2="1638.7" y2="820.8" stroke-width="3.4"/>
<line x1="1693.75" y1="1000.6" x2="1693.75" y2="1015.6" stroke-width="3.4"/>
<line x1="1776.6" y1="1000.6" x2="1776.6" y2="1015.6" stroke-width="3.4"/>
<line x1="1859.6" y1="1000.6" x2="1859.6" y2="1015.6" stroke-width="3.4"/>
<line x1="1942.9" y1="1000.6" x2="1942.9" y2="1015.6" stroke-width="3.4"/>
<line x1="1637.6" y1="979.1" x2="1993.75" y2="979.1" stroke-width="2.05" stroke-dasharray="6 3" stroke-dashoffset="0.6"/>
</g>
<g fill="#231f20" stroke="#231f20" stroke-width="0.5" stroke-linejoin="round" font-family="'Liberation Sans', sans-serif" font-weight="700">
<text transform="translate(1619.6 650.8) scale(1 1.02)" font-size="27" text-anchor="end">100</text>
<text transform="translate(1619.6 830.6) scale(1 1.02)" font-size="27" text-anchor="end">50</text>
<text transform="translate(1619.6 1010.4) scale(1 1.02)" font-size="27" text-anchor="end">0</text>
<text transform="translate(1693.75 1044.6) scale(1 1.02)" font-size="27" text-anchor="middle">0d</text>
<text transform="translate(1776.6 1044.6) scale(1 1.02)" font-size="27" text-anchor="middle">3wk</text>
<text transform="translate(1859.6 1044.6) scale(1 1.02)" font-size="27" text-anchor="middle">6wk</text>
<text transform="translate(1942.9 1044.6) scale(1 1.02)" font-size="27" text-anchor="middle">Conv</text>
<text transform="translate(1819.4 594) scale(1 1.05)" font-size="29.7" text-anchor="middle">anti-N total Ig</text>
<text transform="translate(1556 820.5) rotate(-90) scale(1 1.04)" font-size="29.11" text-anchor="middle">EIA Units</text>
</g>
<g id="B4-pts" fill="#97999c" stroke="#231f20" stroke-width="1" stroke-linejoin="miter">
<g><path d="M1705.7 990.25l3.65 7.4h-7.3z"/><path d="M1709.63 990.17l3.65 7.4h-7.3z"/><path d="M1713.42 993.15l3.65 7.4h-7.3z"/><path d="M1680.53 993.12l3.65 7.4h-7.3z"/><path d="M1688.48 990.14l3.65 7.4h-7.3z"/><path d="M1693.83 954.73l3.65 7.4h-7.3z"/><path d="M1693.83 914.3l3.65 7.4h-7.3z"/><path d="M1693.83 881.63l3.65 7.4h-7.3z"/><path d="M1684.82 990.05l3.65 7.4h-7.3z"/><path d="M1681.02 987.59l3.65 7.4h-7.3z"/><path d="M1674.21 987.3l3.65 7.4h-7.3z"/><path d="M1690.39 993.49l3.65 7.4h-7.3z"/><path d="M1673.81 993.59l3.65 7.4h-7.3z"/><path d="M1694.98 950.6l3.65 7.4h-7.3z"/><path d="M1694.15 938.72l3.65 7.4h-7.3z"/><path d="M1683.98 987.28l3.65 7.4h-7.3z"/><path d="M1693.12 959.25l3.65 7.4h-7.3z"/><path d="M1695 961.12l3.65 7.4h-7.3z"/><path d="M1677.31 987.15l3.65 7.4h-7.3z"/><path d="M1693.57 987.28l3.65 7.4h-7.3z"/><path d="M1693.83 921.73l3.65 7.4h-7.3z"/><path d="M1698.12 984.5l3.65 7.4h-7.3z"/><path d="M1703.51 987.52l3.65 7.4h-7.3z"/><path d="M1697.3 987.19l3.65 7.4h-7.3z"/><path d="M1693.83 903.58l3.65 7.4h-7.3z"/><path d="M1690.62 968l3.65 7.4h-7.3z"/><path d="M1690.26 987.38l3.65 7.4h-7.3z"/><path d="M1693.5 964.25l3.65 7.4h-7.3z"/><path d="M1702.5 989.99l3.65 7.4h-7.3z"/><path d="M1698.78 990.15l3.65 7.4h-7.3z"/><path d="M1674.3 989.81l3.65 7.4h-7.3z"/><path d="M1700.62 981.75l3.65 7.4h-7.3z"/><path d="M1696 971.75l3.65 7.4h-7.3z"/><path d="M1670.81 993.37l3.65 7.4h-7.3z"/><path d="M1697.5 978.62l3.65 7.4h-7.3z"/><path d="M1692.28 989.98l3.65 7.4h-7.3z"/><path d="M1691.25 973l3.65 7.4h-7.3z"/><path d="M1716.69 987.17l3.65 7.4h-7.3z"/><path d="M1700.29 987.19l3.65 7.4h-7.3z"/><path d="M1693.96 993.21l3.65 7.4h-7.3z"/><path d="M1706.77 987.58l3.65 7.4h-7.3z"/><path d="M1692.5 978.62l3.65 7.4h-7.3z"/><path d="M1695.18 989.98l3.65 7.4h-7.3z"/><path d="M1716.27 993.15l3.65 7.4h-7.3z"/><path d="M1696.74 993.21l3.65 7.4h-7.3z"/><path d="M1670.93 987.42l3.65 7.4h-7.3z"/><path d="M1713.41 987.3l3.65 7.4h-7.3z"/><path d="M1690 984.25l3.65 7.4h-7.3z"/><path d="M1694.38 975.5l3.65 7.4h-7.3z"/><path d="M1693.83 907.7l3.65 7.4h-7.3z"/><path d="M1683.62 993.12l3.65 7.4h-7.3z"/><path d="M1707.09 993.26l3.65 7.4h-7.3z"/><path d="M1695 982.38l3.65 7.4h-7.3z"/><path d="M1686.94 987.36l3.65 7.4h-7.3z"/><path d="M1699.89 993.39l3.65 7.4h-7.3z"/><path d="M1703.27 993.09l3.65 7.4h-7.3z"/><path d="M1677.85 990.04l3.65 7.4h-7.3z"/><path d="M1677.72 993.6l3.65 7.4h-7.3z"/><path d="M1693 948.95l3.65 7.4h-7.3z"/><path d="M1681.13 989.95l3.65 7.4h-7.3z"/><path d="M1713.2 990.31l3.65 7.4h-7.3z"/><path d="M1710.39 993.59l3.65 7.4h-7.3z"/><path d="M1686.25 981.75l3.65 7.4h-7.3z"/><path d="M1686.86 993.42l3.65 7.4h-7.3z"/><path d="M1671.14 990.11l3.65 7.4h-7.3z"/><path d="M1693.83 943.17l3.65 7.4h-7.3z"/><path d="M1709.96 987.27l3.65 7.4h-7.3z"/><path d="M1716.18 989.91l3.65 7.4h-7.3z"/><path d="M1693.83 928.82l3.65 7.4h-7.3z"/><path d="M1693.83 895.82l3.65 7.4h-7.3z"/></g>
<g><path d="M1770.25 993.21l3.65 7.4h-7.3z"/><path d="M1789.11 990.1l3.65 7.4h-7.3z"/><path d="M1786.16 987.36l3.65 7.4h-7.3z"/><path d="M1780 987.45l3.65 7.4h-7.3z"/><path d="M1785.72 989.94l3.65 7.4h-7.3z"/><path d="M1777.15 946.48l3.65 7.4h-7.3z"/><path d="M1773.75 982.38l3.65 7.4h-7.3z"/><path d="M1781.85 990.32l3.65 7.4h-7.3z"/><path d="M1783.12 984.88l3.65 7.4h-7.3z"/><path d="M1776 969.25l3.65 7.4h-7.3z"/><path d="M1774.49 990.06l3.65 7.4h-7.3z"/><path d="M1760.35 993.22l3.65 7.4h-7.3z"/><path d="M1775.62 971.75l3.65 7.4h-7.3z"/><path d="M1799.48 987.46l3.65 7.4h-7.3z"/><path d="M1777.99 990.2l3.65 7.4h-7.3z"/><path d="M1769.7 987.39l3.65 7.4h-7.3z"/><path d="M1782.81 987.5l3.65 7.4h-7.3z"/><path d="M1760.54 990.37l3.65 7.4h-7.3z"/><path d="M1782.75 974.25l3.65 7.4h-7.3z"/><path d="M1766.91 993.59l3.65 7.4h-7.3z"/><path d="M1771.25 978.62l3.65 7.4h-7.3z"/><path d="M1776.82 694.57l3.65 7.4h-7.3z"/><path d="M1776.5 958l3.65 7.4h-7.3z"/><path d="M1767.77 990.03l3.65 7.4h-7.3z"/><path d="M1753.65 987.22l3.65 7.4h-7.3z"/><path d="M1799.28 993.3l3.65 7.4h-7.3z"/><path d="M1778.12 975.5l3.65 7.4h-7.3z"/><path d="M1795.87 987.53l3.65 7.4h-7.3z"/><path d="M1776.88 978.62l3.65 7.4h-7.3z"/><path d="M1776.45 987.37l3.65 7.4h-7.3z"/><path d="M1753.55 990.37l3.65 7.4h-7.3z"/><path d="M1776.82 936.58l3.65 7.4h-7.3z"/><path d="M1764.1 989.83l3.65 7.4h-7.3z"/><path d="M1763.87 987.09l3.65 7.4h-7.3z"/><path d="M1777.15 932.45l3.65 7.4h-7.3z"/><path d="M1776.82 940.7l3.65 7.4h-7.3z"/><path d="M1777.15 924.53l3.65 7.4h-7.3z"/><path d="M1789.56 993.15l3.65 7.4h-7.3z"/><path d="M1757.45 987.11l3.65 7.4h-7.3z"/><path d="M1799.04 989.98l3.65 7.4h-7.3z"/><path d="M1781.25 979.25l3.65 7.4h-7.3z"/><path d="M1796.42 993.38l3.65 7.4h-7.3z"/><path d="M1776.88 964.88l3.65 7.4h-7.3z"/><path d="M1780.1 993.27l3.65 7.4h-7.3z"/><path d="M1776.82 896.15l3.65 7.4h-7.3z"/><path d="M1763.76 993.41l3.65 7.4h-7.3z"/><path d="M1785 982.38l3.65 7.4h-7.3z"/><path d="M1757.45 993.21l3.65 7.4h-7.3z"/><path d="M1786.23 993.01l3.65 7.4h-7.3z"/><path d="M1766.51 987.59l3.65 7.4h-7.3z"/><path d="M1777.75 961.12l3.65 7.4h-7.3z"/><path d="M1776.33 928.33l3.65 7.4h-7.3z"/><path d="M1789.88 987.46l3.65 7.4h-7.3z"/><path d="M1776.82 870.9l3.65 7.4h-7.3z"/><path d="M1795.86 990.39l3.65 7.4h-7.3z"/><path d="M1771.62 989.89l3.65 7.4h-7.3z"/><path d="M1792.74 989.85l3.65 7.4h-7.3z"/><path d="M1770 984.5l3.65 7.4h-7.3z"/><path d="M1753.46 993.36l3.65 7.4h-7.3z"/><path d="M1773.25 993.38l3.65 7.4h-7.3z"/><path d="M1776.75 993.13l3.65 7.4h-7.3z"/><path d="M1760.57 987.16l3.65 7.4h-7.3z"/><path d="M1777.48 953.9l3.65 7.4h-7.3z"/><path d="M1792.91 987.3l3.65 7.4h-7.3z"/><path d="M1776.82 906.88l3.65 7.4h-7.3z"/><path d="M1783.33 993.05l3.65 7.4h-7.3z"/><path d="M1779.38 982.38l3.65 7.4h-7.3z"/><path d="M1773.11 987.35l3.65 7.4h-7.3z"/><path d="M1792.76 993.13l3.65 7.4h-7.3z"/><path d="M1757.63 990.14l3.65 7.4h-7.3z"/></g>
<g><path d="M1846.99 990.27l3.65 7.4h-7.3z"/><path d="M1863.14 993.56l3.65 7.4h-7.3z"/><path d="M1866.17 993.12l3.65 7.4h-7.3z"/><path d="M1857.82 990.26l3.65 7.4h-7.3z"/><path d="M1849.82 987.45l3.65 7.4h-7.3z"/><path d="M1843.55 990.17l3.65 7.4h-7.3z"/><path d="M1860.47 925.02l3.65 7.4h-7.3z"/><path d="M1863.12 975.5l3.65 7.4h-7.3z"/><path d="M1876.19 993.57l3.65 7.4h-7.3z"/><path d="M1853.12 981.75l3.65 7.4h-7.3z"/><path d="M1860.62 968l3.65 7.4h-7.3z"/><path d="M1854.04 989.89l3.65 7.4h-7.3z"/><path d="M1859.82 943.17l3.65 7.4h-7.3z"/><path d="M1850.5 990.38l3.65 7.4h-7.3z"/><path d="M1859.82 892.85l3.65 7.4h-7.3z"/><path d="M1859.82 874.37l3.65 7.4h-7.3z"/><path d="M1859.82 737.47l3.65 7.4h-7.3z"/><path d="M1860 961.12l3.65 7.4h-7.3z"/><path d="M1882.64 993.16l3.65 7.4h-7.3z"/><path d="M1859.38 965.5l3.65 7.4h-7.3z"/><path d="M1859.64 987.05l3.65 7.4h-7.3z"/><path d="M1846.59 993.12l3.65 7.4h-7.3z"/><path d="M1840.52 989.94l3.65 7.4h-7.3z"/><path d="M1840.11 993.28l3.65 7.4h-7.3z"/><path d="M1859.82 888.73l3.65 7.4h-7.3z"/><path d="M1840.31 987.33l3.65 7.4h-7.3z"/><path d="M1860.47 953.9l3.65 7.4h-7.3z"/><path d="M1861.25 979.25l3.65 7.4h-7.3z"/><path d="M1856.66 987.32l3.65 7.4h-7.3z"/><path d="M1855.62 984.88l3.65 7.4h-7.3z"/><path d="M1836.51 987.55l3.65 7.4h-7.3z"/><path d="M1836.62 989.83l3.65 7.4h-7.3z"/><path d="M1856.22 993.25l3.65 7.4h-7.3z"/><path d="M1859.82 921.23l3.65 7.4h-7.3z"/><path d="M1872.6 993.48l3.65 7.4h-7.3z"/><path d="M1846.38 987.24l3.65 7.4h-7.3z"/><path d="M1878.56 990.05l3.65 7.4h-7.3z"/><path d="M1852.76 987.56l3.65 7.4h-7.3z"/><path d="M1859.64 993.26l3.65 7.4h-7.3z"/><path d="M1864.38 981.75l3.65 7.4h-7.3z"/><path d="M1872.12 990.04l3.65 7.4h-7.3z"/><path d="M1853.31 993.02l3.65 7.4h-7.3z"/><path d="M1859.82 950.6l3.65 7.4h-7.3z"/><path d="M1882.27 990.09l3.65 7.4h-7.3z"/><path d="M1868.13 990.05l3.65 7.4h-7.3z"/><path d="M1843.15 987.23l3.65 7.4h-7.3z"/><path d="M1843.38 993.29l3.65 7.4h-7.3z"/><path d="M1860.14 935.75l3.65 7.4h-7.3z"/><path d="M1858.75 981.75l3.65 7.4h-7.3z"/><path d="M1872.85 987.25l3.65 7.4h-7.3z"/><path d="M1862.63 987.03l3.65 7.4h-7.3z"/><path d="M1857.5 978.62l3.65 7.4h-7.3z"/><path d="M1860 957.38l3.65 7.4h-7.3z"/><path d="M1865.8 987.43l3.65 7.4h-7.3z"/><path d="M1866.25 984.25l3.65 7.4h-7.3z"/><path d="M1869.67 993.51l3.65 7.4h-7.3z"/><path d="M1861.62 971.75l3.65 7.4h-7.3z"/><path d="M1882.52 987.09l3.65 7.4h-7.3z"/><path d="M1878.93 993.13l3.65 7.4h-7.3z"/><path d="M1859.32 928.33l3.65 7.4h-7.3z"/><path d="M1859.82 910.17l3.65 7.4h-7.3z"/><path d="M1861.34 990.23l3.65 7.4h-7.3z"/><path d="M1875.03 990.23l3.65 7.4h-7.3z"/><path d="M1869.13 987.42l3.65 7.4h-7.3z"/><path d="M1879.24 987.35l3.65 7.4h-7.3z"/><path d="M1864.65 990.31l3.65 7.4h-7.3z"/><path d="M1849.52 993.15l3.65 7.4h-7.3z"/><path d="M1876.03 987.35l3.65 7.4h-7.3z"/><path d="M1856.25 974.25l3.65 7.4h-7.3z"/><path d="M1836.62 993.3l3.65 7.4h-7.3z"/></g>
<g><path d="M1948.75 877.67l3.65 7.4h-7.3z"/><path d="M1924.38 963l3.65 7.4h-7.3z"/><path d="M1936.54 852.92l3.65 7.4h-7.3z"/><path d="M1936.88 967.38l3.65 7.4h-7.3z"/><path d="M1948.75 920.9l3.65 7.4h-7.3z"/><path d="M1936.54 949.77l3.65 7.4h-7.3z"/><path d="M1939.18 810.02l3.65 7.4h-7.3z"/><path d="M1942.88 978.62l3.65 7.4h-7.3z"/><path d="M1942.81 712.56l3.65 7.4h-7.3z"/><path d="M1936.54 798.8l3.65 7.4h-7.3z"/><path d="M1948.75 892.36l3.65 7.4h-7.3z"/><path d="M1930.62 954.88l3.65 7.4h-7.3z"/><path d="M1946.28 810.02l3.65 7.4h-7.3z"/><path d="M1942.81 910.17l3.65 7.4h-7.3z"/><path d="M1942.88 993l3.65 7.4h-7.3z"/><path d="M1948.75 949.77l3.65 7.4h-7.3z"/><path d="M1955 960.5l3.65 7.4h-7.3z"/><path d="M1954.86 949.77l3.65 7.4h-7.3z"/><path d="M1930.62 974.88l3.65 7.4h-7.3z"/><path d="M1955 967.38l3.65 7.4h-7.3z"/><path d="M1930.6 946.48l3.65 7.4h-7.3z"/><path d="M1942.48 888.73l3.65 7.4h-7.3z"/><path d="M1948.75 971.75l3.65 7.4h-7.3z"/><path d="M1942.81 802.43l3.65 7.4h-7.3z"/><path d="M1942.81 680.05l3.65 7.4h-7.3z"/><path d="M1918.75 971.75l3.65 7.4h-7.3z"/><path d="M1948.75 993l3.65 7.4h-7.3z"/><path d="M1942.81 655.3l3.65 7.4h-7.3z"/><path d="M1936.88 982.38l3.65 7.4h-7.3z"/><path d="M1942.48 896.15l3.65 7.4h-7.3z"/><path d="M1942.81 845.5l3.65 7.4h-7.3z"/><path d="M1942.88 985.5l3.65 7.4h-7.3z"/><path d="M1942.48 856.88l3.65 7.4h-7.3z"/><path d="M1924.38 971.75l3.65 7.4h-7.3z"/><path d="M1948.75 899.78l3.65 7.4h-7.3z"/><path d="M1930.62 967.38l3.65 7.4h-7.3z"/><path d="M1948.75 954.88l3.65 7.4h-7.3z"/><path d="M1936.88 954.88l3.65 7.4h-7.3z"/><path d="M1948.75 982.38l3.65 7.4h-7.3z"/><path d="M1942.81 928.82l3.65 7.4h-7.3z"/><path d="M1942.81 881.63l3.65 7.4h-7.3z"/><path d="M1948.75 856.88l3.65 7.4h-7.3z"/><path d="M1936.54 917.6l3.65 7.4h-7.3z"/><path d="M1936.88 993l3.65 7.4h-7.3z"/><path d="M1942.48 920.9l3.65 7.4h-7.3z"/><path d="M1942.81 820.75l3.65 7.4h-7.3z"/><path d="M1961.25 964.25l3.65 7.4h-7.3z"/><path d="M1966.88 971.75l3.65 7.4h-7.3z"/></g>
</g>
<g stroke="#231f20" fill="none">
<line x1="1693.75" y1="988.5" x2="1693.75" y2="992.5" stroke-width="1.75"/>
<line x1="1680" y1="988.5" x2="1707.5" y2="988.5" stroke-width="1.75"/>
<line x1="1680" y1="992.5" x2="1707.5" y2="992.5" stroke-width="1.75"/>
<line x1="1666.25" y1="990.4" x2="1721.25" y2="990.4" stroke-width="3.4"/>
<line x1="1776.6" y1="989.5" x2="1776.6" y2="993" stroke-width="1.75"/>
<line x1="1762.85" y1="989.5" x2="1790.35" y2="989.5" stroke-width="1.75"/>
<line x1="1762.85" y1="993" x2="1790.35" y2="993" stroke-width="1.75"/>
<line x1="1749.1" y1="991.25" x2="1804.1" y2="991.25" stroke-width="3.4"/>
<line x1="1859.6" y1="989.5" x2="1859.6" y2="993" stroke-width="1.75"/>
<line x1="1845.85" y1="989.5" x2="1873.35" y2="989.5" stroke-width="1.75"/>
<line x1="1845.85" y1="993" x2="1873.35" y2="993" stroke-width="1.75"/>
<line x1="1832.1" y1="991" x2="1887.1" y2="991" stroke-width="3.4"/>
<line x1="1942.9" y1="928.75" x2="1942.9" y2="963.1" stroke-width="1.75"/>
<line x1="1929.15" y1="928.75" x2="1956.65" y2="928.75" stroke-width="1.75"/>
<line x1="1929.15" y1="963.1" x2="1956.65" y2="963.1" stroke-width="1.75"/>
<line x1="1915.4" y1="948.1" x2="1970.4" y2="948.1" stroke-width="3.4"/>
</g>
</g>
</svg>
</body></html>
